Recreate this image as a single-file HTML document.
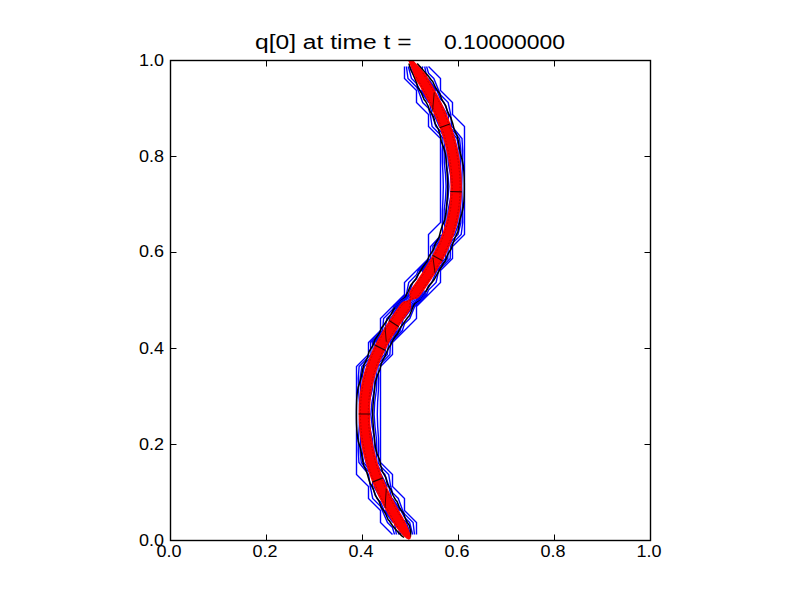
<!DOCTYPE html><html><head><meta charset="utf-8"><style>html,body{margin:0;padding:0;background:#fff;width:800px;height:600px;overflow:hidden}</style></head><body><svg width="800" height="600" viewBox="0 0 800 600" style="display:block">
<rect width="800" height="600" fill="#fff"/>
<defs><clipPath id="ax"><rect x="170.5" y="60.5" width="480" height="480"/></clipPath></defs>
<g clip-path="url(#ax)">
<path fill="none" stroke="#0000ff" stroke-width="1.4" stroke-linejoin="miter" d="M416.5 534.5 L416.5 522.5 L404.5 510.5 L404.5 510.5 L404.5 498.5 L392.5 486.5 L392.5 486.5 L392.5 474.5 L380.5 462.5 L380.5 462.5 L380.5 450.5 L380.5 438.5 L380.5 426.5 L380.5 414.5 L380.5 402.5 L380.5 390.5 L380.5 378.5 L380.5 366.5 L380.5 366.5 L392.5 354.5 L392.5 342.5 L392.5 342.5 L404.5 330.5 L404.5 330.5 L416.5 318.5 L416.5 306.5 L416.5 306.5 L428.5 294.5 L428.5 294.5 L440.5 282.5 L440.5 270.5 L440.5 270.5 L452.5 258.5 L452.5 246.5 L452.5 246.5 L464.5 234.5 L464.5 222.5 L464.5 210.5 L464.5 198.5 L464.5 186.5 L464.5 174.5 L464.5 162.5 L464.5 150.5 L464.5 138.5 L464.5 126.5 L452.5 114.5 L452.5 114.5 L452.5 102.5 L440.5 90.5 L440.5 90.5 L440.5 78.5 L428.5 66.5 L428.5 66.5 M404.5 66.5 L404.5 78.5 L416.5 90.5 L416.5 90.5 L416.5 102.5 L428.5 114.5 L428.5 114.5 L428.5 126.5 L440.5 138.5 L440.5 138.5 L440.5 150.5 L440.5 162.5 L440.5 174.5 L440.5 186.5 L440.5 198.5 L440.5 210.5 L440.5 222.5 L440.5 222.5 L428.5 234.5 L428.5 246.5 L428.5 258.5 L428.5 258.5 L416.5 270.5 L416.5 270.5 L404.5 282.5 L404.5 294.5 L404.5 294.5 L392.5 306.5 L392.5 306.5 L380.5 318.5 L380.5 330.5 L380.5 330.5 L368.5 342.5 L368.5 354.5 L368.5 354.5 L356.5 366.5 L356.5 378.5 L356.5 390.5 L356.5 402.5 L356.5 414.5 L356.5 426.5 L356.5 438.5 L356.5 450.5 L356.5 462.5 L356.5 474.5 L368.5 486.5 L368.5 486.5 L368.5 498.5 L380.5 510.5 L380.5 510.5 L380.5 522.5 L392.5 534.5 L392.5 534.5 M414.5 534.5 L413.1 522.5 L404.5 513.9 L402.7 510.5 L398.3 498.5 L392.5 492.7 L390.7 486.5 L388.7 474.5 L380.5 466.3 L378.1 462.5 L378.7 450.5 L378.5 438.5 L377.7 426.5 L377.3 414.5 L377.6 402.5 L378.4 390.5 L378.7 378.5 L377.9 366.5 L380.5 363.9 L389.9 354.5 L390.5 342.5 L392.5 340.4 L402.4 330.5 L404.5 323.8 L409.8 318.5 L414.7 306.5 L416.5 304.6 L426.6 294.5 L428.5 290.1 L436.1 282.5 L438.7 270.5 L440.5 268.2 L450.2 258.5 L450.4 246.5 L452.5 243.2 L461.2 234.5 L462.7 222.5 L462.6 210.5 L462.0 198.5 L461.7 186.5 L462.0 174.5 L462.6 162.5 L462.7 150.5 L462.0 138.5 L452.5 127.0 L451.6 126.5 L450.7 114.5 L448.2 102.5 L440.5 94.8 L438.7 90.5 L433.8 78.5 L428.5 73.2 L426.6 66.5 M406.4 66.5 L408.0 78.5 L416.5 87.0 L418.3 90.5 L422.7 102.5 L428.5 108.3 L430.3 114.5 L432.1 126.5 L440.5 134.9 L443.0 138.5 L442.3 150.5 L442.4 162.5 L443.0 174.5 L443.3 186.5 L443.0 198.5 L442.4 210.5 L442.3 222.5 L442.6 234.5 L440.5 235.8 L430.6 246.5 L430.8 258.5 L428.5 260.3 L418.3 270.5 L416.5 274.7 L408.7 282.5 L406.4 294.5 L404.5 296.3 L394.3 306.5 L392.5 309.6 L383.6 318.5 L382.6 330.5 L380.5 332.5 L370.5 342.5 L371.1 354.5 L368.5 357.1 L359.1 366.5 L358.3 378.5 L358.6 390.5 L359.4 402.5 L359.7 414.5 L359.3 426.5 L358.5 438.5 L358.3 450.5 L358.9 462.5 L368.5 474.4 L368.6 474.5 L370.3 486.5 L372.7 498.5 L380.5 506.3 L382.3 510.5 L387.5 522.5 L392.5 527.5 L394.5 534.5 M412.6 534.5 L409.7 522.5 L404.5 517.3 L400.9 510.5 L392.5 498.6 L391.7 498.5 L388.9 486.5 L384.9 474.5 L380.5 470.1 L375.7 462.5 L376.9 450.5 L376.4 438.5 L375.0 426.5 L374.1 414.5 L374.7 402.5 L376.3 390.5 L376.9 378.5 L375.2 366.5 L380.5 361.3 L387.3 354.5 L388.6 342.5 L392.5 338.2 L400.2 330.5 L403.3 318.5 L404.5 318.0 L412.9 306.5 L416.5 302.6 L424.6 294.5 L428.5 285.7 L431.7 282.5 L436.9 270.5 L440.5 265.8 L447.8 258.5 L448.2 246.5 L452.5 240.0 L458.0 234.5 L460.9 222.5 L460.8 210.5 L459.5 198.5 L458.9 186.5 L459.5 174.5 L460.7 162.5 L460.9 150.5 L459.5 138.5 L452.5 130.0 L446.8 126.5 L448.9 114.5 L444.0 102.5 L440.5 99.0 L436.9 90.5 L428.5 79.0 L427.0 78.5 L424.7 66.5 M408.3 66.5 L411.5 78.5 L416.5 83.5 L420.1 90.5 L428.5 102.3 L429.5 102.5 L432.1 114.5 L435.8 126.5 L440.5 131.2 L445.5 138.5 L444.1 150.5 L444.3 162.5 L445.5 174.5 L446.1 186.5 L445.5 198.5 L444.2 210.5 L444.1 222.5 L446.3 234.5 L440.5 238.1 L432.8 246.5 L433.2 258.5 L428.5 262.1 L420.1 270.5 L416.5 278.8 L412.8 282.5 L408.4 294.5 L404.5 298.1 L396.1 306.5 L392.5 312.8 L386.8 318.5 L384.8 330.5 L380.5 334.4 L372.4 342.5 L373.7 354.5 L368.5 359.8 L361.8 366.5 L360.1 378.5 L360.7 390.5 L362.3 402.5 L362.9 414.5 L362.0 426.5 L360.6 438.5 L360.1 450.5 L361.3 462.5 L368.5 471.5 L374.1 474.5 L372.1 486.5 L377.0 498.5 L380.5 502.0 L384.1 510.5 L392.5 521.8 L394.4 522.5 L396.4 534.5 M410.6 534.5 L406.3 522.5 L404.5 520.7 L401.0 522.5 L398.4 534.5 M410.2 66.5 L415.0 78.5 L416.5 80.0 L419.6 78.5 L422.8 66.5 M392.5 519.4 L399.1 510.5 L392.5 501.2 L385.9 510.5 L392.5 519.4 M380.5 498.0 L387.1 486.5 L381.1 474.5 L380.5 473.9 L379.6 474.5 L373.9 486.5 L380.5 498.0 M368.5 468.5 L373.4 462.5 L375.1 450.5 L374.4 438.5 L372.2 426.5 L370.9 414.5 L371.9 402.5 L374.2 390.5 L375.1 378.5 L372.6 366.5 L368.5 362.4 L364.4 366.5 L361.9 378.5 L362.8 390.5 L365.1 402.5 L366.1 414.5 L364.8 426.5 L362.6 438.5 L361.9 450.5 L363.6 462.5 L368.5 468.5 M380.5 358.7 L384.7 354.5 L386.6 342.5 L380.5 336.4 L374.4 342.5 L376.3 354.5 L380.5 358.7 M392.5 336.1 L398.1 330.5 L397.3 318.5 L404.5 315.5 L411.1 306.5 L416.5 300.7 L422.7 294.5 L416.5 282.9 L410.3 294.5 L404.5 299.9 L397.9 306.5 L392.5 315.9 L389.9 318.5 L386.9 330.5 L392.5 336.1 M428.5 281.7 L435.1 270.5 L428.5 263.9 L421.9 270.5 L428.5 281.7 M440.5 263.5 L445.5 258.5 L446.1 246.5 L440.5 240.4 L434.9 246.5 L435.5 258.5 L440.5 263.5 M452.5 236.7 L454.7 234.5 L459.1 222.5 L458.9 210.5 L457.0 198.5 L456.1 186.5 L457.0 174.5 L458.8 162.5 L459.1 150.5 L457.0 138.5 L452.5 133.0 L448.0 138.5 L445.9 150.5 L446.2 162.5 L448.0 174.5 L448.9 186.5 L448.0 198.5 L446.1 210.5 L445.9 222.5 L450.0 234.5 L452.5 236.7 M440.5 127.6 L441.9 126.5 L447.1 114.5 L440.5 103.1 L433.9 114.5 L439.4 126.5 L440.5 127.6 M428.5 99.8 L435.1 90.5 L428.5 81.5 L421.9 90.5 L428.5 99.8 M408.7 534.5 L404.5 524.7 L400.3 534.5 M412.2 66.5 L416.5 76.1 L420.8 66.5 M392.5 517.0 L397.3 510.5 L392.5 503.7 L387.7 510.5 L392.5 517.0 M380.5 494.8 L385.3 486.5 L380.5 477.4 L375.7 486.5 L380.5 494.8 M368.5 465.6 L371.0 462.5 L373.3 450.5 L372.3 438.5 L369.4 426.5 L368.5 419.9 L367.6 426.5 L364.7 438.5 L363.7 450.5 L366.0 462.5 L368.5 465.6 M368.5 407.1 L369.0 402.5 L372.1 390.5 L373.3 378.5 L370.0 366.5 L368.5 365.0 L367.0 366.5 L363.7 378.5 L364.9 390.5 L368.0 402.5 L368.5 407.1 M380.5 356.1 L382.1 354.5 L384.7 342.5 L380.5 338.3 L376.3 342.5 L378.9 354.5 L380.5 356.1 M392.5 334.0 L396.0 330.5 L392.5 319.7 L389.0 330.5 L392.5 334.0 M404.5 313.1 L409.3 306.5 L404.5 301.7 L399.7 306.5 L404.5 313.1 M416.5 298.7 L420.7 294.5 L416.5 286.6 L412.3 294.5 L416.5 298.7 M428.5 278.6 L433.3 270.5 L428.5 265.7 L423.7 270.5 L428.5 278.6 M440.5 261.1 L443.1 258.5 L443.9 246.5 L440.5 242.8 L437.1 246.5 L437.9 258.5 L440.5 261.1 M452.5 233.2 L457.3 222.5 L457.0 210.5 L454.5 198.5 L453.3 186.5 L454.5 174.5 L456.8 162.5 L457.3 150.5 L454.5 138.5 L452.5 136.0 L450.5 138.5 L447.7 150.5 L448.2 162.5 L450.5 174.5 L451.7 186.5 L450.5 198.5 L448.0 210.5 L447.7 222.5 L452.5 233.2 M440.5 124.0 L445.3 114.5 L440.5 106.2 L435.7 114.5 L440.5 124.0 M428.5 97.2 L433.3 90.5 L428.5 83.9 L423.7 90.5 L428.5 97.2 M406.7 534.5 L404.5 529.2 L402.3 534.5 M414.1 66.5 L416.5 71.8 L418.9 66.5 M392.5 514.5 L395.5 510.5 L392.5 506.3 L389.5 510.5 L392.5 514.5 M380.5 491.7 L383.5 486.5 L380.5 480.8 L377.5 486.5 L380.5 491.7 M368.5 462.6 L368.6 462.5 L371.5 450.5 L370.3 438.5 L368.5 431.7 L366.7 438.5 L365.5 450.5 L368.4 462.5 L368.5 462.6 M368.5 396.0 L370.0 390.5 L371.5 378.5 L368.5 369.0 L365.5 378.5 L367.0 390.5 L368.5 396.0 M380.5 351.6 L382.7 342.5 L380.5 340.3 L378.3 342.5 L380.5 351.6 M392.5 331.9 L393.9 330.5 L392.5 326.3 L391.1 330.5 L392.5 331.9 M404.5 310.6 L407.5 306.5 L404.5 303.5 L401.5 306.5 L404.5 310.6 M416.5 296.8 L418.8 294.5 L416.5 290.2 L414.2 294.5 L416.5 296.8 M428.5 275.6 L431.5 270.5 L428.5 267.5 L425.5 270.5 L428.5 275.6 M440.5 258.8 L440.8 258.5 L441.8 246.5 L440.5 245.1 L439.2 246.5 L440.2 258.5 L440.5 258.8 M452.5 229.2 L455.5 222.5 L455.2 210.5 L452.5 200.0 L449.8 210.5 L449.5 222.5 L452.5 229.2 M452.5 172.8 L454.9 162.5 L455.5 150.5 L452.5 139.7 L449.5 150.5 L450.1 162.5 L452.5 172.8 M440.5 120.4 L443.5 114.5 L440.5 109.3 L437.5 114.5 L440.5 120.4 M428.5 94.7 L431.5 90.5 L428.5 86.4 L425.5 90.5 L428.5 94.7 M404.8 534.5 L404.5 533.8 L404.2 534.5 M416.0 66.5 L416.5 67.6 L417.0 66.5 M392.5 512.1 L393.7 510.5 L392.5 508.8 L391.3 510.5 L392.5 512.1 M380.5 488.6 L381.7 486.5 L380.5 484.2 L379.3 486.5 L380.5 488.6 M368.5 455.4 L369.7 450.5 L368.5 440.3 L367.3 450.5 L368.5 455.4 M368.5 386.8 L369.7 378.5 L368.5 374.7 L367.3 378.5 L368.5 386.8 M380.5 343.6 L380.8 342.5 L380.5 342.2 L380.2 342.5 L380.5 343.6 M404.5 308.1 L405.7 306.5 L404.5 305.3 L403.3 306.5 L404.5 308.1 M416.5 294.9 L416.9 294.5 L416.5 293.8 L416.1 294.5 L416.5 294.9 M428.5 272.5 L429.7 270.5 L428.5 269.3 L427.3 270.5 L428.5 272.5 M452.5 225.2 L453.7 222.5 L453.3 210.5 L452.5 207.4 L451.7 210.5 L451.3 222.5 L452.5 225.2 M452.5 164.7 L453.0 162.5 L453.7 150.5 L452.5 146.2 L451.3 150.5 L452.0 162.5 L452.5 164.7 M440.5 116.9 L441.7 114.5 L440.5 112.4 L439.3 114.5 L440.5 116.9 M428.5 92.2 L429.7 90.5 L428.5 88.9 L427.3 90.5 L428.5 92.2"/>
<path fill="none" stroke="#000" stroke-width="1.5" d="M410.3 537.5 L410.8 531.5 L409.4 525.5 L407.5 522.6 L405.7 519.5 L403.7 513.5 L401.5 510.7 L399.4 507.5 L397.0 501.5 L395.5 499.7 L393.1 495.5 L390.9 489.5 L389.5 487.7 L387.3 483.5 L385.7 477.5 L382.4 471.5 L380.8 465.5 L379.5 459.5 L377.0 453.5 L375.5 447.5 L374.7 441.5 L373.1 423.5 L372.8 417.5 L372.7 411.5 L373.0 405.5 L374.1 393.5 L374.7 387.5 L375.5 381.5 L377.5 375.2 L379.9 369.5 L381.3 363.5 L383.5 358.8 L384.5 357.5 L386.9 351.5 L389.5 346.5 L390.4 345.5 L393.2 339.5 L395.5 336.0 L397.6 333.5 L400.4 327.5 L401.5 326.2 L407.5 317.7 L409.5 315.5 L413.5 305.7 L414.7 303.5 L419.5 299.6 L421.6 297.5 L425.8 291.5 L429.5 285.5 L434.2 279.5 L437.5 273.5 L443.5 263.3 L445.0 261.5 L447.3 255.5 L449.5 251.4 L451.0 249.5 L452.9 243.5 L455.1 237.5 L455.5 236.7 L457.9 231.5 L460.0 219.5 L461.8 213.5 L463.2 207.5 L463.9 201.5 L464.2 195.5 L464.3 189.5 L464.3 183.5 L464.2 177.5 L463.9 171.5 L463.3 165.5 L462.1 159.5 L461.5 157.7 L460.4 153.5 L459.3 147.5 L458.4 141.5 L457.1 135.5 L455.5 132.5 L454.2 129.5 L452.7 123.5 L450.8 117.5 L449.5 115.7 L447.4 111.5 L445.7 105.5 L443.5 102.3 L441.8 99.5 L439.7 93.5 L437.5 90.6 L435.5 87.5 L432.7 81.5 L431.5 80.3 L427.9 75.5 L425.5 72.9 L422.6 69.5 L417.2 63.5 M408.9 63.5 L410.6 69.5 L413.6 75.5 L416.1 81.5 L417.8 87.5 L419.5 89.8 L421.6 93.5 L424.1 99.5 L425.5 101.2 L427.9 105.5 L430.1 111.5 L431.5 113.3 L433.7 117.5 L435.2 123.5 L438.5 129.5 L440.2 135.5 L441.3 141.5 L443.6 147.5 L445.3 153.5 L446.1 159.5 L447.4 177.5 L447.7 183.5 L447.7 189.5 L447.4 195.5 L446.5 207.5 L445.9 213.5 L444.8 219.5 L443.5 222.9 L442.3 225.5 L440.5 231.5 L439.0 237.5 L435.4 243.5 L433.5 249.5 L431.5 252.6 L429.4 255.5 L427.0 261.5 L425.5 263.4 L422.6 267.5 L419.5 272.7 L418.7 273.5 L415.4 279.5 L410.6 285.5 L408.1 291.5 L407.5 292.6 L405.0 297.5 L401.5 300.4 L398.3 303.5 L395.5 307.2 L393.5 309.5 L390.4 315.5 L389.5 316.5 L383.5 325.5 L381.8 327.5 L379.2 333.5 L375.0 339.5 L372.9 345.5 L371.5 347.6 L369.1 351.5 L367.5 357.5 L365.5 361.9 L364.4 363.5 L362.6 369.5 L361.6 375.5 L359.5 383.3 L358.1 387.5 L357.2 393.5 L356.7 399.5 L356.5 405.5 L356.4 411.5 L356.4 417.5 L356.5 423.5 L356.8 429.5 L357.3 435.5 L358.3 441.5 L360.2 447.5 L361.5 453.5 L362.4 459.5 L363.7 465.5 L366.6 471.5 L368.3 477.5 L370.1 483.5 L371.5 485.5 L373.5 489.5 L375.3 495.5 L377.5 498.7 L379.2 501.5 L381.3 507.5 L383.5 510.4 L385.5 513.5 L388.1 519.5 L389.5 521.0 L392.4 525.5 L395.5 529.2 L397.5 531.5 L401.5 535.6 L404.0 537.5 L404.0 537.5"/>
<path fill="none" stroke="#0000ff" stroke-width="1.1" d="M393.87 305.33 L423.01 287.82 M394.55 306.47 L423.70 288.96 M395.24 307.61 L424.39 290.10 M395.93 308.76 L425.07 291.24 M396.61 309.90 L425.76 292.39 M397.30 311.04 L426.45 293.53 M397.99 312.18 L427.13 294.67"/>
<path fill="#ff0000" stroke="none" d="M396.0 41.2 L396.3 41.7 L396.6 42.2 L396.9 42.7 L397.2 43.3 L397.5 43.8 L397.9 44.3 L398.2 44.8 L398.5 45.4 L398.8 45.9 L399.1 46.4 L399.4 46.9 L399.8 47.4 L400.1 48.0 L400.4 48.5 L400.7 49.0 L401.0 49.5 L401.4 50.1 L401.7 50.6 L402.0 51.1 L402.3 51.6 L402.6 52.1 L403.0 52.7 L403.3 53.2 L403.6 53.7 L403.9 54.2 L404.3 54.7 L404.6 55.3 L404.9 55.8 L405.2 56.3 L405.6 56.8 L405.9 57.4 L406.2 57.9 L406.5 58.4 L406.9 58.9 L407.2 59.4 L407.5 60.0 L407.8 60.5 L408.2 61.0 L408.5 61.5 L408.8 62.0 L409.1 62.6 L409.3 63.2 L409.5 63.8 L409.8 64.3 L410.0 64.9 L410.2 65.5 L410.5 66.1 L410.7 66.7 L410.9 67.2 L411.1 67.8 L411.4 68.4 L411.6 69.0 L411.8 69.5 L412.0 70.1 L412.3 70.7 L412.5 71.3 L412.7 71.9 L412.9 72.4 L413.2 73.0 L413.4 73.6 L413.6 74.2 L413.8 74.7 L414.1 75.3 L414.3 75.9 L414.5 76.5 L414.7 77.0 L414.9 77.6 L415.2 78.2 L415.4 78.8 L415.6 79.3 L415.8 79.9 L416.1 80.4 L416.4 81.0 L416.7 81.5 L417.0 82.0 L417.3 82.5 L417.7 83.0 L418.0 83.5 L418.3 84.0 L418.6 84.6 L418.9 85.1 L419.2 85.6 L419.5 86.1 L419.8 86.6 L420.1 87.1 L420.4 87.6 L420.7 88.2 L421.0 88.7 L421.3 89.2 L421.6 89.7 L421.8 90.2 L422.1 90.7 L422.4 91.2 L422.7 91.8 L423.0 92.3 L423.3 92.8 L423.6 93.3 L423.9 93.8 L424.2 94.3 L424.4 94.8 L424.7 95.3 L425.0 95.8 L425.3 96.4 L425.5 96.9 L425.8 97.4 L426.1 97.9 L426.4 98.4 L426.6 98.9 L426.9 99.4 L427.2 99.9 L427.5 100.4 L427.7 101.0 L428.0 101.5 L428.2 102.0 L428.5 102.5 L428.8 103.0 L429.0 103.5 L429.3 104.0 L429.5 104.5 L429.8 105.0 L430.1 105.5 L430.3 106.1 L430.6 106.6 L430.8 107.1 L431.1 107.6 L431.3 108.1 L431.6 108.6 L431.8 109.1 L432.0 109.6 L432.3 110.1 L432.5 110.6 L432.8 111.1 L433.0 111.6 L433.2 112.2 L433.5 112.7 L433.7 113.2 L433.9 113.7 L434.1 114.2 L434.4 114.7 L434.6 115.2 L434.8 115.7 L435.0 116.2 L435.3 116.7 L435.5 117.2 L435.7 117.7 L435.9 118.2 L436.1 118.7 L436.3 119.3 L436.6 119.8 L436.8 120.3 L437.0 120.8 L437.2 121.3 L437.4 121.8 L437.6 122.3 L437.8 122.8 L438.0 123.3 L438.2 123.8 L438.4 124.3 L438.6 124.8 L438.8 125.3 L439.0 125.8 L439.1 126.3 L439.3 126.8 L439.5 127.3 L439.7 127.9 L439.9 128.4 L440.1 128.9 L440.2 129.4 L440.4 129.9 L440.6 130.4 L440.8 130.9 L441.0 131.4 L441.1 131.9 L441.3 132.4 L441.5 132.9 L441.6 133.4 L441.8 133.9 L442.0 134.4 L442.1 134.9 L442.3 135.4 L442.4 135.9 L442.6 136.4 L442.8 136.9 L442.9 137.4 L443.1 138.0 L443.2 138.5 L443.4 139.0 L443.5 139.5 L443.7 140.0 L443.8 140.5 L443.9 141.0 L444.1 141.5 L444.2 142.0 L444.4 142.5 L444.5 143.0 L444.6 143.5 L444.8 144.0 L444.9 144.5 L445.0 145.0 L445.2 145.5 L445.3 146.0 L445.4 146.5 L445.5 147.0 L445.7 147.5 L445.8 148.0 L445.9 148.5 L446.0 149.0 L446.1 149.5 L446.2 150.1 L446.4 150.6 L446.5 151.1 L446.6 151.6 L446.7 152.1 L446.8 152.6 L446.9 153.1 L447.0 153.6 L447.1 154.1 L447.2 154.6 L447.3 155.1 L447.4 155.6 L447.5 156.1 L447.6 156.6 L447.7 157.1 L447.8 157.6 L447.9 158.1 L447.9 158.6 L448.0 159.1 L448.1 159.6 L448.2 160.1 L448.3 160.6 L448.4 161.1 L448.4 161.6 L448.5 162.1 L448.6 162.6 L448.7 163.2 L448.7 163.7 L448.8 164.2 L448.9 164.7 L448.9 165.2 L449.0 165.7 L449.1 166.2 L449.1 166.7 L449.2 167.2 L449.3 167.7 L449.3 168.2 L449.4 168.7 L449.4 169.2 L449.5 169.7 L449.5 170.2 L449.6 170.7 L449.6 171.2 L449.7 171.7 L449.7 172.2 L449.8 172.7 L449.8 173.2 L449.9 173.7 L449.9 174.2 L449.9 174.7 L450.0 175.2 L450.0 175.7 L450.1 176.2 L450.1 176.7 L450.1 177.2 L450.1 177.7 L450.2 178.2 L450.2 178.7 L450.2 179.2 L450.2 179.8 L450.3 180.3 L450.3 180.8 L450.3 181.3 L450.3 181.8 L450.3 182.3 L450.3 182.8 L450.4 183.3 L450.4 183.8 L450.4 184.3 L450.4 184.8 L450.4 185.3 L450.4 185.8 L450.4 186.3 L450.4 186.8 L450.4 187.3 L450.4 187.8 L450.4 188.3 L450.4 188.8 L450.4 189.3 L450.4 189.8 L450.4 190.3 L450.3 190.8 L450.3 191.3 L450.3 191.8 L450.3 192.3 L450.3 192.8 L450.2 193.3 L450.2 193.8 L450.2 194.3 L450.2 194.8 L450.1 195.3 L450.1 195.8 L450.1 196.3 L450.0 196.8 L450.0 197.3 L450.0 197.8 L449.9 198.3 L449.9 198.8 L449.9 199.3 L449.8 199.8 L449.8 200.3 L449.7 200.8 L449.7 201.3 L449.6 201.8 L449.6 202.3 L449.5 202.8 L449.4 203.3 L449.4 203.8 L449.3 204.3 L449.3 204.8 L449.2 205.3 L449.1 205.8 L449.1 206.3 L449.0 206.8 L448.9 207.3 L448.8 207.8 L448.8 208.3 L448.7 208.8 L448.6 209.3 L448.5 209.8 L448.4 210.3 L448.4 210.8 L448.3 211.3 L448.2 211.8 L448.1 212.3 L448.0 212.8 L447.9 213.3 L447.8 213.8 L447.7 214.3 L447.6 214.8 L447.5 215.3 L447.4 215.8 L447.3 216.3 L447.2 216.8 L447.1 217.3 L447.0 217.8 L446.8 218.3 L446.7 218.8 L446.6 219.3 L446.5 219.8 L446.4 220.3 L446.2 220.8 L446.1 221.3 L446.0 221.8 L445.8 222.3 L445.7 222.8 L445.6 223.3 L445.4 223.8 L445.3 224.3 L445.1 224.8 L445.0 225.3 L444.9 225.8 L444.7 226.3 L444.6 226.8 L444.4 227.3 L444.2 227.7 L444.1 228.2 L443.9 228.7 L443.8 229.2 L443.6 229.7 L443.4 230.2 L443.3 230.7 L443.1 231.2 L442.9 231.7 L442.8 232.2 L442.6 232.7 L442.4 233.2 L442.2 233.7 L442.0 234.2 L441.8 234.7 L441.7 235.2 L441.5 235.7 L441.3 236.2 L441.1 236.7 L440.9 237.2 L440.7 237.7 L440.5 238.3 L440.3 238.8 L440.1 239.3 L439.9 239.8 L439.7 240.3 L439.4 240.8 L439.2 241.3 L439.0 241.8 L438.8 242.3 L438.6 242.8 L438.4 243.3 L438.1 243.8 L437.9 244.3 L437.7 244.8 L437.4 245.3 L437.2 245.8 L437.0 246.3 L436.7 246.8 L436.5 247.3 L436.3 247.8 L436.0 248.3 L435.8 248.8 L435.5 249.3 L435.3 249.8 L435.0 250.3 L434.8 250.8 L434.5 251.3 L434.2 251.8 L434.0 252.3 L433.7 252.8 L433.5 253.3 L433.2 253.8 L432.9 254.4 L432.7 254.9 L432.4 255.4 L432.1 255.9 L431.8 256.4 L431.6 256.9 L431.3 257.4 L431.0 257.9 L430.7 258.4 L430.4 258.9 L430.1 259.4 L429.8 259.9 L429.6 260.4 L429.3 260.9 L429.0 261.4 L428.7 262.0 L428.4 262.5 L428.1 263.0 L427.8 263.5 L427.5 264.0 L427.2 264.5 L426.8 265.0 L426.5 265.5 L426.2 266.0 L425.9 266.5 L425.6 267.0 L425.3 267.6 L425.0 268.1 L424.6 268.6 L424.3 269.1 L424.0 269.6 L423.7 270.1 L423.4 270.6 L423.0 271.1 L422.7 271.6 L422.4 272.2 L422.0 272.7 L421.7 273.2 L421.4 273.7 L421.0 274.2 L420.7 274.7 L420.4 275.2 L420.0 275.7 L419.7 276.3 L419.3 276.8 L419.0 277.3 L418.7 277.8 L418.3 278.3 L418.0 278.8 L417.6 279.3 L417.3 279.9 L416.9 280.4 L416.6 280.9 L416.2 281.4 L415.9 281.9 L415.5 282.4 L415.2 283.0 L414.8 283.5 L414.5 284.0 L414.1 284.5 L413.7 285.0 L413.4 285.5 L413.0 286.0 L412.7 286.6 L412.3 287.1 L412.0 287.6 L411.6 288.1 L411.2 288.6 L410.9 289.2 L410.6 289.7 L410.3 290.3 L410.0 290.8 L409.7 291.5 L409.5 292.1 L409.4 292.8 L409.4 293.5 L409.4 294.3 L409.5 295.2 L409.6 296.0 L409.6 296.8 L409.7 297.6 L409.6 298.4 L409.4 299.0 L409.0 299.5 L408.5 299.9 L407.8 300.2 L407.1 300.5 L406.2 300.7 L405.4 300.9 L404.6 301.1 L403.9 301.3 L403.2 301.6 L402.6 302.0 L402.0 302.4 L401.5 302.8 L401.1 303.3 L400.7 303.8 L400.3 304.3 L399.9 304.8 L399.5 305.3 L399.1 305.8 L398.8 306.3 L398.4 306.9 L398.0 307.4 L397.7 307.9 L397.3 308.4 L396.9 309.0 L396.6 309.5 L396.2 310.0 L395.9 310.5 L395.5 311.1 L395.1 311.6 L394.8 312.1 L394.4 312.6 L394.1 313.2 L393.7 313.7 L393.3 314.2 L393.0 314.7 L392.6 315.3 L392.3 315.8 L391.9 316.3 L391.6 316.9 L391.2 317.4 L390.9 317.9 L390.5 318.4 L390.2 319.0 L389.8 319.5 L389.5 320.0 L389.1 320.6 L388.8 321.1 L388.5 321.6 L388.1 322.1 L387.8 322.7 L387.4 323.2 L387.1 323.7 L386.8 324.3 L386.4 324.8 L386.1 325.3 L385.8 325.8 L385.4 326.4 L385.1 326.9 L384.8 327.4 L384.5 328.0 L384.1 328.5 L383.8 329.0 L383.5 329.6 L383.2 330.1 L382.9 330.6 L382.5 331.2 L382.2 331.7 L381.9 332.2 L381.6 332.8 L381.3 333.3 L381.0 333.8 L380.7 334.4 L380.4 334.9 L380.1 335.4 L379.8 336.0 L379.5 336.5 L379.2 337.0 L378.9 337.6 L378.6 338.1 L378.3 338.6 L378.0 339.2 L377.7 339.7 L377.4 340.2 L377.1 340.8 L376.9 341.3 L376.6 341.8 L376.3 342.4 L376.0 342.9 L375.7 343.5 L375.5 344.0 L375.2 344.5 L374.9 345.1 L374.7 345.6 L374.4 346.1 L374.1 346.7 L373.9 347.2 L373.6 347.8 L373.4 348.3 L373.1 348.8 L372.9 349.4 L372.6 349.9 L372.4 350.4 L372.1 351.0 L371.9 351.5 L371.6 352.1 L371.4 352.6 L371.2 353.1 L370.9 353.7 L370.7 354.2 L370.5 354.8 L370.2 355.3 L370.0 355.8 L369.8 356.4 L369.6 356.9 L369.4 357.4 L369.1 358.0 L368.9 358.5 L368.7 359.1 L368.5 359.6 L368.3 360.2 L368.1 360.7 L367.9 361.2 L367.7 361.8 L367.5 362.3 L367.3 362.9 L367.1 363.4 L366.9 363.9 L366.7 364.5 L366.5 365.0 L366.3 365.6 L366.2 366.1 L366.0 366.6 L365.8 367.2 L365.6 367.7 L365.5 368.3 L365.3 368.8 L365.1 369.4 L364.9 369.9 L364.8 370.4 L364.6 371.0 L364.5 371.5 L364.3 372.1 L364.1 372.6 L364.0 373.1 L363.8 373.7 L363.7 374.2 L363.5 374.8 L363.4 375.3 L363.3 375.9 L363.1 376.4 L363.0 376.9 L362.9 377.5 L362.7 378.0 L362.6 378.6 L362.5 379.1 L362.3 379.7 L362.2 380.2 L362.1 380.7 L362.0 381.3 L361.9 381.8 L361.7 382.4 L361.6 382.9 L361.5 383.4 L361.4 384.0 L361.3 384.5 L361.2 385.1 L361.1 385.6 L361.0 386.2 L360.9 386.7 L360.8 387.2 L360.7 387.8 L360.6 388.3 L360.5 388.9 L360.4 389.4 L360.4 390.0 L360.3 390.5 L360.2 391.0 L360.1 391.6 L360.0 392.1 L360.0 392.7 L359.9 393.2 L359.8 393.7 L359.8 394.3 L359.7 394.8 L359.6 395.4 L359.6 395.9 L359.5 396.5 L359.5 397.0 L359.4 397.5 L359.3 398.1 L359.3 398.6 L359.2 399.2 L359.2 399.7 L359.1 400.2 L359.1 400.8 L359.1 401.3 L359.0 401.9 L359.0 402.4 L358.9 402.9 L358.9 403.5 L358.9 404.0 L358.8 404.6 L358.8 405.1 L358.8 405.6 L358.8 406.2 L358.7 406.7 L358.7 407.3 L358.7 407.8 L358.7 408.3 L358.7 408.9 L358.7 409.4 L358.6 410.0 L358.6 410.5 L358.6 411.0 L358.6 411.6 L358.6 412.1 L358.6 412.7 L358.6 413.2 L358.6 413.7 L358.6 414.3 L358.6 414.8 L358.6 415.4 L358.6 415.9 L358.6 416.4 L358.6 417.0 L358.7 417.5 L358.7 418.1 L358.7 418.6 L358.7 419.1 L358.7 419.7 L358.7 420.2 L358.8 420.8 L358.8 421.3 L358.8 421.8 L358.8 422.4 L358.9 422.9 L358.9 423.4 L358.9 424.0 L359.0 424.5 L359.0 425.1 L359.0 425.6 L359.1 426.1 L359.1 426.7 L359.2 427.2 L359.2 427.8 L359.3 428.3 L359.3 428.8 L359.4 429.4 L359.4 429.9 L359.5 430.4 L359.5 431.0 L359.6 431.5 L359.6 432.1 L359.7 432.6 L359.8 433.1 L359.8 433.7 L359.9 434.2 L359.9 434.7 L360.0 435.3 L360.1 435.8 L360.2 436.4 L360.2 436.9 L360.3 437.4 L360.4 438.0 L360.5 438.5 L360.5 439.0 L360.6 439.6 L360.7 440.1 L360.8 440.7 L360.9 441.2 L361.0 441.7 L361.0 442.3 L361.1 442.8 L361.2 443.3 L361.3 443.9 L361.4 444.4 L361.5 445.0 L361.6 445.5 L361.7 446.0 L361.8 446.6 L361.9 447.1 L362.0 447.6 L362.1 448.2 L362.2 448.7 L362.3 449.3 L362.5 449.8 L362.6 450.3 L362.7 450.9 L362.8 451.4 L362.9 451.9 L363.0 452.5 L363.2 453.0 L363.3 453.5 L363.4 454.1 L363.5 454.6 L363.7 455.2 L363.8 455.7 L363.9 456.2 L364.1 456.8 L364.2 457.3 L364.3 457.8 L364.5 458.4 L364.6 458.9 L364.8 459.5 L364.9 460.0 L365.0 460.5 L365.2 461.1 L365.3 461.6 L365.5 462.1 L365.6 462.7 L365.8 463.2 L366.0 463.7 L366.1 464.3 L366.3 464.8 L366.4 465.4 L366.6 465.9 L366.8 466.4 L366.9 467.0 L367.1 467.5 L367.3 468.0 L367.4 468.6 L367.6 469.1 L367.8 469.6 L367.9 470.2 L368.1 470.7 L368.3 471.3 L368.5 471.8 L368.7 472.3 L368.9 472.9 L369.0 473.4 L369.2 473.9 L369.4 474.5 L369.6 475.0 L369.8 475.5 L370.0 476.1 L370.2 476.6 L370.4 477.2 L370.6 477.7 L370.8 478.2 L371.0 478.8 L371.2 479.3 L371.4 479.8 L371.6 480.4 L371.8 480.9 L372.0 481.4 L372.2 482.0 L372.5 482.5 L372.7 483.0 L372.9 483.6 L373.1 484.1 L373.3 484.6 L373.5 485.2 L373.8 485.7 L374.0 486.2 L374.2 486.8 L374.5 487.3 L374.7 487.9 L374.9 488.4 L375.1 488.9 L375.4 489.5 L375.6 490.0 L375.9 490.5 L376.1 491.1 L376.3 491.6 L376.6 492.1 L376.8 492.7 L377.1 493.2 L377.3 493.7 L377.6 494.3 L377.8 494.8 L378.1 495.3 L378.3 495.9 L378.6 496.4 L378.8 496.9 L379.1 497.4 L379.4 498.0 L379.6 498.5 L379.9 499.0 L380.1 499.6 L380.4 500.1 L380.7 500.6 L380.9 501.2 L381.2 501.7 L381.5 502.2 L381.8 502.8 L382.0 503.3 L382.3 503.8 L382.6 504.4 L382.9 504.9 L383.1 505.4 L383.4 506.0 L383.7 506.5 L384.0 507.0 L384.3 507.5 L384.6 508.1 L384.8 508.6 L385.1 509.1 L385.4 509.7 L385.7 510.2 L386.0 510.7 L386.3 511.3 L386.6 511.8 L386.9 512.3 L387.2 512.8 L387.5 513.4 L387.8 513.9 L388.1 514.4 L388.4 515.0 L388.7 515.5 L389.0 516.0 L389.3 516.5 L389.6 517.1 L389.9 517.6 L390.2 518.1 L390.5 518.6 L390.8 519.2 L391.1 519.7 L391.4 520.2 L391.7 520.7 L392.1 521.3 L392.4 521.8 L392.7 522.3 L393.0 522.8 L393.4 523.3 L393.7 523.8 L394.1 524.3 L394.4 524.9 L394.7 525.4 L395.1 525.9 L395.5 526.4 L395.8 526.9 L396.2 527.4 L396.5 527.9 L396.9 528.4 L397.3 528.9 L397.6 529.3 L398.0 529.8 L398.4 530.3 L398.8 530.8 L399.2 531.3 L399.6 531.8 L400.0 532.2 L400.4 532.7 L400.8 533.2 L401.2 533.6 L401.6 534.1 L402.1 534.6 L402.5 535.0 L402.9 535.5 L403.4 535.9 L403.8 536.4 L404.3 536.8 L404.8 537.2 L405.3 537.6 L405.8 538.0 L406.3 538.4 L406.9 538.8 L407.5 539.1 L408.1 539.5 L408.9 539.7 L410.5 538.7 L410.7 537.9 L410.7 537.1 L410.7 536.4 L410.6 535.8 L410.4 535.1 L410.3 534.5 L410.1 533.9 L410.0 533.2 L409.8 532.6 L409.6 532.0 L409.4 531.4 L409.2 530.8 L409.0 530.3 L408.8 529.7 L408.5 529.1 L408.3 528.5 L408.1 528.0 L407.8 527.4 L407.6 526.8 L407.3 526.3 L407.1 525.7 L406.8 525.1 L406.6 524.6 L406.3 524.0 L406.1 523.5 L405.8 522.9 L405.5 522.4 L405.3 521.8 L405.0 521.3 L404.7 520.8 L404.4 520.2 L404.2 519.7 L403.9 519.2 L403.6 518.6 L403.3 518.1 L403.0 517.6 L402.8 517.0 L402.5 516.5 L402.2 516.0 L401.9 515.5 L401.6 514.9 L401.3 514.4 L401.0 513.9 L400.7 513.4 L400.4 512.9 L400.1 512.4 L399.8 511.8 L399.5 511.3 L399.2 510.8 L398.9 510.3 L398.7 509.8 L398.4 509.3 L398.1 508.8 L397.8 508.2 L397.5 507.7 L397.2 507.2 L396.9 506.7 L396.6 506.2 L396.3 505.7 L396.1 505.2 L395.8 504.7 L395.5 504.2 L395.2 503.6 L395.0 503.1 L394.7 502.6 L394.4 502.1 L394.1 501.6 L393.9 501.1 L393.6 500.6 L393.3 500.1 L393.0 499.6 L392.8 499.0 L392.5 498.5 L392.3 498.0 L392.0 497.5 L391.7 497.0 L391.5 496.5 L391.2 496.0 L391.0 495.5 L390.7 495.0 L390.4 494.5 L390.2 493.9 L389.9 493.4 L389.7 492.9 L389.4 492.4 L389.2 491.9 L388.9 491.4 L388.7 490.9 L388.5 490.4 L388.2 489.9 L388.0 489.4 L387.7 488.9 L387.5 488.4 L387.3 487.8 L387.0 487.3 L386.8 486.8 L386.6 486.3 L386.4 485.8 L386.1 485.3 L385.9 484.8 L385.7 484.3 L385.5 483.8 L385.2 483.3 L385.0 482.8 L384.8 482.3 L384.6 481.8 L384.4 481.3 L384.2 480.7 L383.9 480.2 L383.7 479.7 L383.5 479.2 L383.3 478.7 L383.1 478.2 L382.9 477.7 L382.7 477.2 L382.5 476.7 L382.3 476.2 L382.1 475.7 L381.9 475.2 L381.7 474.7 L381.5 474.2 L381.4 473.7 L381.2 473.2 L381.0 472.7 L380.8 472.1 L380.6 471.6 L380.4 471.1 L380.3 470.6 L380.1 470.1 L379.9 469.6 L379.7 469.1 L379.5 468.6 L379.4 468.1 L379.2 467.6 L379.0 467.1 L378.9 466.6 L378.7 466.1 L378.5 465.6 L378.4 465.1 L378.2 464.6 L378.1 464.1 L377.9 463.6 L377.7 463.1 L377.6 462.6 L377.4 462.0 L377.3 461.5 L377.1 461.0 L377.0 460.5 L376.8 460.0 L376.7 459.5 L376.6 459.0 L376.4 458.5 L376.3 458.0 L376.1 457.5 L376.0 457.0 L375.9 456.5 L375.7 456.0 L375.6 455.5 L375.5 455.0 L375.3 454.5 L375.2 454.0 L375.1 453.5 L375.0 453.0 L374.8 452.5 L374.7 452.0 L374.6 451.5 L374.5 451.0 L374.4 450.5 L374.3 449.9 L374.1 449.4 L374.0 448.9 L373.9 448.4 L373.8 447.9 L373.7 447.4 L373.6 446.9 L373.5 446.4 L373.4 445.9 L373.3 445.4 L373.2 444.9 L373.1 444.4 L373.0 443.9 L372.9 443.4 L372.8 442.9 L372.7 442.4 L372.6 441.9 L372.6 441.4 L372.5 440.9 L372.4 440.4 L372.3 439.9 L372.2 439.4 L372.1 438.9 L372.1 438.4 L372.0 437.9 L371.9 437.4 L371.8 436.8 L371.8 436.3 L371.7 435.8 L371.6 435.3 L371.6 434.8 L371.5 434.3 L371.4 433.8 L371.4 433.3 L371.3 432.8 L371.2 432.3 L371.2 431.8 L371.1 431.3 L371.1 430.8 L371.0 430.3 L371.0 429.8 L370.9 429.3 L370.9 428.8 L370.8 428.3 L370.8 427.8 L370.7 427.3 L370.7 426.8 L370.6 426.3 L370.6 425.8 L370.6 425.3 L370.5 424.8 L370.5 424.3 L370.4 423.8 L370.4 423.3 L370.4 422.8 L370.4 422.3 L370.3 421.8 L370.3 421.3 L370.3 420.8 L370.3 420.2 L370.2 419.7 L370.2 419.2 L370.2 418.7 L370.2 418.2 L370.2 417.7 L370.2 417.2 L370.1 416.7 L370.1 416.2 L370.1 415.7 L370.1 415.2 L370.1 414.7 L370.1 414.2 L370.1 413.7 L370.1 413.2 L370.1 412.7 L370.1 412.2 L370.1 411.7 L370.1 411.2 L370.1 410.7 L370.1 410.2 L370.1 409.7 L370.2 409.2 L370.2 408.7 L370.2 408.2 L370.2 407.7 L370.2 407.2 L370.3 406.7 L370.3 406.2 L370.3 405.7 L370.3 405.2 L370.4 404.7 L370.4 404.2 L370.4 403.7 L370.5 403.2 L370.5 402.7 L370.5 402.2 L370.6 401.7 L370.6 401.2 L370.6 400.7 L370.7 400.2 L370.7 399.7 L370.8 399.2 L370.8 398.7 L370.9 398.2 L370.9 397.7 L371.0 397.2 L371.1 396.7 L371.1 396.2 L371.2 395.7 L371.2 395.2 L371.3 394.7 L371.4 394.2 L371.4 393.7 L371.5 393.2 L371.6 392.7 L371.7 392.2 L371.7 391.7 L371.8 391.2 L371.9 390.7 L372.0 390.2 L372.1 389.7 L372.1 389.2 L372.2 388.7 L372.3 388.2 L372.4 387.7 L372.5 387.2 L372.6 386.7 L372.7 386.2 L372.8 385.7 L372.9 385.2 L373.0 384.7 L373.1 384.2 L373.2 383.7 L373.3 383.2 L373.4 382.7 L373.5 382.2 L373.7 381.7 L373.8 381.2 L373.9 380.7 L374.0 380.2 L374.1 379.7 L374.3 379.2 L374.4 378.7 L374.5 378.2 L374.7 377.7 L374.8 377.2 L374.9 376.7 L375.1 376.2 L375.2 375.7 L375.4 375.2 L375.5 374.7 L375.6 374.2 L375.8 373.7 L375.9 373.2 L376.1 372.7 L376.3 372.3 L376.4 371.8 L376.6 371.3 L376.7 370.8 L376.9 370.3 L377.1 369.8 L377.2 369.3 L377.4 368.8 L377.6 368.3 L377.7 367.8 L377.9 367.3 L378.1 366.8 L378.3 366.3 L378.5 365.8 L378.7 365.3 L378.8 364.8 L379.0 364.3 L379.2 363.8 L379.4 363.3 L379.6 362.8 L379.8 362.3 L380.0 361.7 L380.2 361.2 L380.4 360.7 L380.6 360.2 L380.8 359.7 L381.1 359.2 L381.3 358.7 L381.5 358.2 L381.7 357.7 L381.9 357.2 L382.1 356.7 L382.4 356.2 L382.6 355.7 L382.8 355.2 L383.1 354.7 L383.3 354.2 L383.5 353.7 L383.8 353.2 L384.0 352.7 L384.2 352.2 L384.5 351.7 L384.7 351.2 L385.0 350.7 L385.2 350.2 L385.5 349.7 L385.7 349.2 L386.0 348.7 L386.3 348.2 L386.5 347.7 L386.8 347.2 L387.0 346.7 L387.3 346.2 L387.6 345.6 L387.8 345.1 L388.1 344.6 L388.4 344.1 L388.7 343.6 L388.9 343.1 L389.2 342.6 L389.5 342.1 L389.8 341.6 L390.1 341.1 L390.4 340.6 L390.7 340.1 L390.9 339.6 L391.2 339.1 L391.5 338.6 L391.8 338.0 L392.1 337.5 L392.4 337.0 L392.7 336.5 L393.0 336.0 L393.3 335.5 L393.7 335.0 L394.0 334.5 L394.3 334.0 L394.6 333.5 L394.9 333.0 L395.2 332.4 L395.5 331.9 L395.9 331.4 L396.2 330.9 L396.5 330.4 L396.8 329.9 L397.1 329.4 L397.5 328.9 L397.8 328.4 L398.1 327.8 L398.5 327.3 L398.8 326.8 L399.1 326.3 L399.5 325.8 L399.8 325.3 L400.1 324.8 L400.5 324.3 L400.8 323.7 L401.2 323.2 L401.5 322.7 L401.8 322.2 L402.2 321.7 L402.5 321.2 L402.9 320.7 L403.2 320.1 L403.6 319.6 L403.9 319.1 L404.3 318.6 L404.6 318.1 L405.0 317.6 L405.3 317.0 L405.7 316.5 L406.0 316.0 L406.4 315.5 L406.8 315.0 L407.1 314.5 L407.5 314.0 L407.8 313.4 L408.2 312.9 L408.5 312.4 L408.9 311.9 L409.3 311.4 L409.6 310.8 L409.9 310.3 L410.2 309.7 L410.5 309.2 L410.8 308.5 L411.0 307.9 L411.1 307.2 L411.1 306.5 L411.1 305.7 L411.0 304.8 L410.9 304.0 L410.9 303.2 L410.8 302.4 L410.9 301.6 L411.1 301.0 L411.5 300.5 L412.0 300.1 L412.7 299.8 L413.4 299.5 L414.3 299.3 L415.1 299.1 L415.9 298.9 L416.6 298.7 L417.3 298.4 L417.9 298.0 L418.5 297.6 L419.0 297.2 L419.4 296.7 L419.8 296.2 L420.2 295.7 L420.6 295.2 L421.0 294.7 L421.4 294.2 L421.7 293.7 L422.1 293.1 L422.5 292.6 L422.8 292.1 L423.2 291.6 L423.6 291.0 L423.9 290.5 L424.3 290.0 L424.6 289.5 L425.0 288.9 L425.4 288.4 L425.7 287.9 L426.1 287.4 L426.4 286.8 L426.8 286.3 L427.2 285.8 L427.5 285.3 L427.9 284.7 L428.2 284.2 L428.6 283.7 L428.9 283.1 L429.3 282.6 L429.6 282.1 L430.0 281.6 L430.3 281.0 L430.7 280.5 L431.0 280.0 L431.4 279.4 L431.7 278.9 L432.0 278.4 L432.4 277.9 L432.7 277.3 L433.1 276.8 L433.4 276.3 L433.7 275.7 L434.1 275.2 L434.4 274.7 L434.7 274.2 L435.1 273.6 L435.4 273.1 L435.7 272.6 L436.0 272.0 L436.4 271.5 L436.7 271.0 L437.0 270.4 L437.3 269.9 L437.6 269.4 L438.0 268.8 L438.3 268.3 L438.6 267.8 L438.9 267.2 L439.2 266.7 L439.5 266.2 L439.8 265.6 L440.1 265.1 L440.4 264.6 L440.7 264.0 L441.0 263.5 L441.3 263.0 L441.6 262.4 L441.9 261.9 L442.2 261.4 L442.5 260.8 L442.8 260.3 L443.1 259.8 L443.4 259.2 L443.6 258.7 L443.9 258.2 L444.2 257.6 L444.5 257.1 L444.8 256.5 L445.0 256.0 L445.3 255.5 L445.6 254.9 L445.8 254.4 L446.1 253.9 L446.4 253.3 L446.6 252.8 L446.9 252.2 L447.1 251.7 L447.4 251.2 L447.6 250.6 L447.9 250.1 L448.1 249.6 L448.4 249.0 L448.6 248.5 L448.9 247.9 L449.1 247.4 L449.3 246.9 L449.6 246.3 L449.8 245.8 L450.0 245.2 L450.3 244.7 L450.5 244.2 L450.7 243.6 L450.9 243.1 L451.1 242.6 L451.4 242.0 L451.6 241.5 L451.8 240.9 L452.0 240.4 L452.2 239.8 L452.4 239.3 L452.6 238.8 L452.8 238.2 L453.0 237.7 L453.2 237.1 L453.4 236.6 L453.6 236.1 L453.8 235.5 L454.0 235.0 L454.2 234.4 L454.3 233.9 L454.5 233.4 L454.7 232.8 L454.9 232.3 L455.0 231.7 L455.2 231.2 L455.4 230.6 L455.6 230.1 L455.7 229.6 L455.9 229.0 L456.0 228.5 L456.2 227.9 L456.4 227.4 L456.5 226.9 L456.7 226.3 L456.8 225.8 L457.0 225.2 L457.1 224.7 L457.2 224.1 L457.4 223.6 L457.5 223.1 L457.6 222.5 L457.8 222.0 L457.9 221.4 L458.0 220.9 L458.2 220.3 L458.3 219.8 L458.4 219.3 L458.5 218.7 L458.6 218.2 L458.8 217.6 L458.9 217.1 L459.0 216.6 L459.1 216.0 L459.2 215.5 L459.3 214.9 L459.4 214.4 L459.5 213.8 L459.6 213.3 L459.7 212.8 L459.8 212.2 L459.9 211.7 L460.0 211.1 L460.1 210.6 L460.1 210.0 L460.2 209.5 L460.3 209.0 L460.4 208.4 L460.5 207.9 L460.5 207.3 L460.6 206.8 L460.7 206.3 L460.7 205.7 L460.8 205.2 L460.9 204.6 L460.9 204.1 L461.0 203.5 L461.0 203.0 L461.1 202.5 L461.2 201.9 L461.2 201.4 L461.3 200.8 L461.3 200.3 L461.4 199.8 L461.4 199.2 L461.4 198.7 L461.5 198.1 L461.5 197.6 L461.6 197.1 L461.6 196.5 L461.6 196.0 L461.7 195.4 L461.7 194.9 L461.7 194.4 L461.7 193.8 L461.8 193.3 L461.8 192.7 L461.8 192.2 L461.8 191.7 L461.8 191.1 L461.8 190.6 L461.9 190.0 L461.9 189.5 L461.9 189.0 L461.9 188.4 L461.9 187.9 L461.9 187.3 L461.9 186.8 L461.9 186.3 L461.9 185.7 L461.9 185.2 L461.9 184.6 L461.9 184.1 L461.9 183.6 L461.9 183.0 L461.8 182.5 L461.8 181.9 L461.8 181.4 L461.8 180.9 L461.8 180.3 L461.8 179.8 L461.7 179.2 L461.7 178.7 L461.7 178.2 L461.7 177.6 L461.6 177.1 L461.6 176.6 L461.6 176.0 L461.5 175.5 L461.5 174.9 L461.5 174.4 L461.4 173.9 L461.4 173.3 L461.3 172.8 L461.3 172.2 L461.2 171.7 L461.2 171.2 L461.1 170.6 L461.1 170.1 L461.0 169.6 L461.0 169.0 L460.9 168.5 L460.9 167.9 L460.8 167.4 L460.7 166.9 L460.7 166.3 L460.6 165.8 L460.6 165.3 L460.5 164.7 L460.4 164.2 L460.3 163.6 L460.3 163.1 L460.2 162.6 L460.1 162.0 L460.0 161.5 L460.0 161.0 L459.9 160.4 L459.8 159.9 L459.7 159.3 L459.6 158.8 L459.5 158.3 L459.5 157.7 L459.4 157.2 L459.3 156.7 L459.2 156.1 L459.1 155.6 L459.0 155.0 L458.9 154.5 L458.8 154.0 L458.7 153.4 L458.6 152.9 L458.5 152.4 L458.4 151.8 L458.3 151.3 L458.2 150.7 L458.0 150.2 L457.9 149.7 L457.8 149.1 L457.7 148.6 L457.6 148.1 L457.5 147.5 L457.3 147.0 L457.2 146.5 L457.1 145.9 L457.0 145.4 L456.8 144.8 L456.7 144.3 L456.6 143.8 L456.4 143.2 L456.3 142.7 L456.2 142.2 L456.0 141.6 L455.9 141.1 L455.7 140.5 L455.6 140.0 L455.5 139.5 L455.3 138.9 L455.2 138.4 L455.0 137.9 L454.9 137.3 L454.7 136.8 L454.5 136.3 L454.4 135.7 L454.2 135.2 L454.1 134.6 L453.9 134.1 L453.7 133.6 L453.6 133.0 L453.4 132.5 L453.2 132.0 L453.1 131.4 L452.9 130.9 L452.7 130.4 L452.6 129.8 L452.4 129.3 L452.2 128.7 L452.0 128.2 L451.8 127.7 L451.6 127.1 L451.5 126.6 L451.3 126.1 L451.1 125.5 L450.9 125.0 L450.7 124.5 L450.5 123.9 L450.3 123.4 L450.1 122.8 L449.9 122.3 L449.7 121.8 L449.5 121.2 L449.3 120.7 L449.1 120.2 L448.9 119.6 L448.7 119.1 L448.5 118.6 L448.3 118.0 L448.0 117.5 L447.8 117.0 L447.6 116.4 L447.4 115.9 L447.2 115.4 L447.0 114.8 L446.7 114.3 L446.5 113.8 L446.3 113.2 L446.0 112.7 L445.8 112.1 L445.6 111.6 L445.4 111.1 L445.1 110.5 L444.9 110.0 L444.6 109.5 L444.4 108.9 L444.2 108.4 L443.9 107.9 L443.7 107.3 L443.4 106.8 L443.2 106.3 L442.9 105.7 L442.7 105.2 L442.4 104.7 L442.2 104.1 L441.9 103.6 L441.7 103.1 L441.4 102.6 L441.1 102.0 L440.9 101.5 L440.6 101.0 L440.4 100.4 L440.1 99.9 L439.8 99.4 L439.6 98.8 L439.3 98.3 L439.0 97.8 L438.7 97.2 L438.5 96.7 L438.2 96.2 L437.9 95.6 L437.6 95.1 L437.4 94.6 L437.1 94.0 L436.8 93.5 L436.5 93.0 L436.2 92.5 L435.9 91.9 L435.7 91.4 L435.4 90.9 L435.1 90.3 L434.8 89.8 L434.5 89.3 L434.2 88.7 L433.9 88.2 L433.6 87.7 L433.3 87.2 L433.0 86.6 L432.7 86.1 L432.4 85.6 L432.1 85.0 L431.8 84.5 L431.5 84.0 L431.2 83.5 L430.9 82.9 L430.6 82.4 L430.3 81.9 L430.0 81.4 L429.7 80.8 L429.4 80.3 L429.1 79.8 L428.8 79.2 L428.5 78.7 L428.2 78.2 L427.9 77.7 L427.5 77.1 L427.2 76.6 L426.9 76.1 L426.6 75.6 L426.3 75.0 L426.0 74.5 L425.6 74.0 L425.2 73.5 L424.8 73.1 L424.4 72.6 L424.0 72.1 L423.6 71.7 L423.2 71.2 L422.7 70.7 L422.3 70.3 L421.9 69.8 L421.5 69.3 L421.1 68.9 L420.7 68.4 L420.2 67.9 L419.8 67.5 L419.4 67.0 L419.0 66.6 L418.6 66.1 L418.1 65.6 L417.7 65.2 L417.3 64.7 L416.9 64.2 L416.5 63.8 L416.0 63.3 L415.6 62.9 L415.2 62.4 L414.8 61.9 L414.4 61.5 L413.9 61.0 L413.5 60.5 L413.1 60.1 L412.7 59.6 L412.4 59.1 L412.1 58.6 L411.7 58.0 L411.4 57.5 L411.1 57.0 L410.8 56.5 L410.4 56.0 L410.1 55.4 L409.8 54.9 L409.5 54.4 L409.1 53.9 L408.8 53.4 L408.5 52.8 L408.2 52.3 L407.8 51.8 L407.5 51.3 L407.2 50.8 L406.9 50.2 L406.6 49.7 L406.2 49.2 L405.9 48.7 L405.6 48.2 L405.3 47.6 L405.0 47.1 L404.6 46.6 L404.3 46.1 L404.0 45.6 L403.7 45.0 L403.4 44.5 L403.0 44.0 L402.7 43.5 L402.4 43.0 L402.1 42.5 L401.8 41.9 L401.5 41.4 L401.2 40.9 L400.9 40.4 L400.5 39.9 L400.2 39.3 L399.9 38.8Z"/>
<path fill="none" stroke="#b00000" stroke-width="0.9" stroke-dasharray="1.6 1.6" d="M416.2 77.1 L416.5 77.5 L416.8 78.0 L417.1 78.5 L417.4 79.0 L417.7 79.5 L418.0 80.0 L418.3 80.5 L418.6 81.0 L418.9 81.5 L419.2 82.0 L419.5 82.5 L419.7 83.0 L420.0 83.5 L420.3 84.0 L420.6 84.5 L420.9 85.0 L421.2 85.5 L421.5 86.0 L421.8 86.5 L422.1 87.0 L422.4 87.5 L422.6 88.0 L422.9 88.5 L423.2 89.0 L423.5 89.5 L423.8 90.0 L424.1 90.5 L424.3 91.0 L424.6 91.4 L424.9 91.9 L425.2 92.4 L425.4 92.9 L425.7 93.4 L426.0 93.9 L426.3 94.4 L426.5 94.9 L426.8 95.4 L427.1 95.9 L427.3 96.4 L427.6 96.9 L427.9 97.4 L428.1 97.9 L428.4 98.4 L428.7 98.9 L428.9 99.4 L429.2 99.9 L429.4 100.3 L429.7 100.8 L429.9 101.3 L430.2 101.8 L430.5 102.3 L430.7 102.8 L431.0 103.3 L431.2 103.8 L431.4 104.3 L431.7 104.8 L431.9 105.3 L432.2 105.8 L432.4 106.3 L432.7 106.8 L432.9 107.3 L433.1 107.7 L433.4 108.2 L433.6 108.7 L433.8 109.2 L434.1 109.7 L434.3 110.2 L434.5 110.7 L434.8 111.2 L435.0 111.7 L435.2 112.2 L435.4 112.7 L435.7 113.2 L435.9 113.7 L436.1 114.1 L436.3 114.6 L436.5 115.1 L436.7 115.6 L437.0 116.1 L437.2 116.6 L437.4 117.1 L437.6 117.6 L437.8 118.1 L438.0 118.6 L438.2 119.1 L438.4 119.6 L438.6 120.0 L438.8 120.5 L439.0 121.0 L439.2 121.5 L439.4 122.0 L439.6 122.5 L439.8 123.0 L440.0 123.5 L440.2 124.0 L440.4 124.5 L440.5 125.0 L440.7 125.4 L440.9 125.9 L441.1 126.4 L441.3 126.9 L441.5 127.4 L441.6 127.9 L441.8 128.4 L442.0 128.9 L442.2 129.4 L442.3 129.9 L442.5 130.3 L442.7 130.8 L442.8 131.3 L443.0 131.8 L443.2 132.3 L443.3 132.8 L443.5 133.3 L443.6 133.8 L443.8 134.3 L444.0 134.8 L444.1 135.2 L444.3 135.7 L444.4 136.2 L444.6 136.7 L444.7 137.2 L444.9 137.7 L445.0 138.2 L445.2 138.7 L445.3 139.2 L445.4 139.7 L445.6 140.1 L445.7 140.6 L445.9 141.1 L446.0 141.6 L446.1 142.1 L446.3 142.6 L446.4 143.1 L446.5 143.6 L446.6 144.1 L446.8 144.6 L446.9 145.0 L447.0 145.5 L447.1 146.0 L447.3 146.5 L447.4 147.0 L447.5 147.5 L447.6 148.0 L447.7 148.5 L447.8 149.0 L447.9 149.5 L448.1 149.9 L448.2 150.4 L448.3 150.9 L448.4 151.4 L448.5 151.9 L448.6 152.4 L448.7 152.9 L448.8 153.4 L448.9 153.9 L449.0 154.4 L449.1 154.8 L449.2 155.3 L449.3 155.8 L449.4 156.3 L449.4 156.8 L449.5 157.3 L449.6 157.8 L449.7 158.3 L449.8 158.8 L449.9 159.2 L450.0 159.7 L450.0 160.2 L450.1 160.7 L450.2 161.2 L450.3 161.7 L450.3 162.2 L450.4 162.7 L450.5 163.2 L450.6 163.6 L450.6 164.1 L450.7 164.6 L450.8 165.1 L450.8 165.6 L450.9 166.1 L450.9 166.6 L451.0 167.1 L451.1 167.6 L451.1 168.1 L451.2 168.5 L451.2 169.0 L451.3 169.5 L451.3 170.0 L451.4 170.5 L451.4 171.0 L451.5 171.5 L451.5 172.0 L451.6 172.5 L451.6 172.9 L451.6 173.4 L451.7 173.9 L451.7 174.4 L451.8 174.9 L451.8 175.4 L451.8 175.9 L451.9 176.4 L451.9 176.9 L451.9 177.3 L452.0 177.8 L452.0 178.3 L452.0 178.8 L452.0 179.3 L452.0 179.8 L452.1 180.3 L452.1 180.8 L452.1 181.3 L452.1 181.7 L452.1 182.2 L452.1 182.7 L452.2 183.2 L452.2 183.7 L452.2 184.2 L452.2 184.7 L452.2 185.2 L452.2 185.6 L452.2 186.1 L452.2 186.6 L452.2 187.1 L452.2 187.6 L452.2 188.1 L452.2 188.6 L452.2 189.1 L452.2 189.6 L452.2 190.0 L452.1 190.5 L452.1 191.0 L452.1 191.5 L452.1 192.0 L452.1 192.5 L452.1 193.0 L452.0 193.5 L452.0 193.9 L452.0 194.4 L452.0 194.9 L451.9 195.4 L451.9 195.9 L451.9 196.4 L451.8 196.9 L451.8 197.4 L451.8 197.8 L451.7 198.3 L451.7 198.8 L451.7 199.3 L451.6 199.8 L451.6 200.3 L451.5 200.8 L451.5 201.2 L451.4 201.7 L451.4 202.2 L451.3 202.7 L451.3 203.2 L451.2 203.7 L451.2 204.2 L451.1 204.7 L451.0 205.1 L451.0 205.6 L450.9 206.1 L450.8 206.6 L450.8 207.1 L450.7 207.6 L450.6 208.1 L450.6 208.5 L450.5 209.0 L450.4 209.5 L450.3 210.0 L450.2 210.5 L450.2 211.0 L450.1 211.5 L450.0 212.0 L449.9 212.4 L449.8 212.9 L449.7 213.4 L449.6 213.9 L449.5 214.4 L449.4 214.9 L449.3 215.4 L449.2 215.8 L449.1 216.3 L449.0 216.8 L448.9 217.3 L448.8 217.8 L448.7 218.3 L448.6 218.8 L448.5 219.2 L448.3 219.7 L448.2 220.2 L448.1 220.7 L448.0 221.2 L447.9 221.7 L447.7 222.2 L447.6 222.6 L447.5 223.1 L447.3 223.6 L447.2 224.1 L447.1 224.6 L446.9 225.1 L446.8 225.6 L446.6 226.1 L446.5 226.5 L446.4 227.0 L446.2 227.5 L446.1 228.0 L445.9 228.5 L445.7 229.0 L445.6 229.5 L445.4 229.9 L445.3 230.4 L445.1 230.9 L444.9 231.4 L444.8 231.9 L444.6 232.4 L444.4 232.9 L444.3 233.4 L444.1 233.8 L443.9 234.3 L443.7 234.8 L443.6 235.3 L443.4 235.8 L443.2 236.3 L443.0 236.8 L442.8 237.2 L442.6 237.7 L442.4 238.2 L442.2 238.7 L442.0 239.2 L441.8 239.7 L441.6 240.2 L441.4 240.7 L441.2 241.2 L441.0 241.6 L440.8 242.1 L440.6 242.6 L440.4 243.1 L440.2 243.6 L440.0 244.1 L439.7 244.6 L439.5 245.1 L439.3 245.5 L439.1 246.0 L438.8 246.5 L438.6 247.0 L438.4 247.5 L438.2 248.0 L437.9 248.5 L437.7 249.0 L437.4 249.5 L437.2 249.9 L437.0 250.4 L436.7 250.9 L436.5 251.4 L436.2 251.9 L436.0 252.4 L435.7 252.9 L435.5 253.4 L435.2 253.9 L435.0 254.4 L434.7 254.9 L434.4 255.3 L434.2 255.8 L433.9 256.3 L433.6 256.8 L433.4 257.3 L433.1 257.8 L432.8 258.3 L432.6 258.8 L432.3 259.3 L432.0 259.8 L431.7 260.3 L431.4 260.7 L431.2 261.2 L430.9 261.7 L430.6 262.2 L430.3 262.7 L430.0 263.2 L429.7 263.7 L429.4 264.2 L429.1 264.7 L428.8 265.2 L428.6 265.7 L428.3 266.2 L428.0 266.7 L427.7 267.2 L427.3 267.6 L427.0 268.1 L426.7 268.6 L426.4 269.1 L426.1 269.6 L425.8 270.1 L425.5 270.6 L425.2 271.1 L424.9 271.6 L424.6 272.1 L424.2 272.6 L423.9 273.1 L423.6 273.6 L423.3 274.1 L423.0 274.6 L422.6 275.1 L422.3 275.6 L422.0 276.1 L421.7 276.5 L421.3 277.0 L421.0 277.5 L420.7 278.0 L420.3 278.5 L420.0 279.0 L419.7 279.5 L419.3 280.0 L419.0 280.5 L418.7 281.0 L418.3 281.5 L418.0 282.0 L417.7 282.5 L417.3 283.0 L417.0 283.5 L416.6 284.0 L416.3 284.5 L415.9 285.0 L415.6 285.5 L415.3 286.0 L414.9 286.5 L414.6 287.0 L414.2 287.5 L413.9 288.0 L413.5 288.5 L413.2 289.0 L412.8 289.5 L412.5 290.0 L412.2 290.5 L411.9 291.0 L411.6 291.6 L411.3 292.1 L411.0 292.7 L410.8 293.3 L410.7 293.9 L410.6 294.6 L410.6 295.4 L410.6 296.1 L410.6 296.9 L410.6 297.6 L410.5 298.3 L410.4 299.0 L410.2 299.6 L409.8 300.1 L409.3 300.5 L408.8 300.8 L408.1 301.1 L407.4 301.4 L406.7 301.6 L406.0 301.9 L405.3 302.1 L404.7 302.5 L404.1 302.8 L403.6 303.2 L403.2 303.6 L402.7 304.1 L402.3 304.5 L401.9 305.0 L401.6 305.5 L401.2 306.0 L400.8 306.5 L400.5 307.0 L400.1 307.5 L399.8 308.0 L399.4 308.5 L399.1 309.0 L398.7 309.5 L398.4 310.0 L398.0 310.5 L397.7 311.0 L397.4 311.5 L397.0 312.0 L396.7 312.5 L396.3 313.0 L396.0 313.5 L395.6 314.0 L395.3 314.6 L394.9 315.1 L394.6 315.6 L394.3 316.1 L393.9 316.6 L393.6 317.1 L393.3 317.6 L392.9 318.1 L392.6 318.6 L392.2 319.1 L391.9 319.6 L391.6 320.1 L391.3 320.6 L390.9 321.1 L390.6 321.6 L390.3 322.1 L389.9 322.6 L389.6 323.1 L389.3 323.7 L389.0 324.2 L388.6 324.7 L388.3 325.2 L388.0 325.7 L387.7 326.2 L387.4 326.7 L387.1 327.2 L386.7 327.7 L386.4 328.2 L386.1 328.7 L385.8 329.2 L385.5 329.7 L385.2 330.2 L384.9 330.8 L384.6 331.3 L384.3 331.8 L384.0 332.3 L383.7 332.8 L383.4 333.3 L383.1 333.8 L382.8 334.3 L382.5 334.8 L382.2 335.3 L381.9 335.8 L381.6 336.3 L381.3 336.9 L381.0 337.4 L380.8 337.9 L380.5 338.4 L380.2 338.9 L379.9 339.4 L379.6 339.9 L379.4 340.4 L379.1 340.9 L378.8 341.4 L378.6 342.0 L378.3 342.5 L378.0 343.0 L377.8 343.5 L377.5 344.0 L377.2 344.5 L377.0 345.0 L376.7 345.5 L376.5 346.0 L376.2 346.6 L376.0 347.1 L375.7 347.6 L375.5 348.1 L375.2 348.6 L375.0 349.1 L374.7 349.6 L374.5 350.1 L374.3 350.7 L374.0 351.2 L373.8 351.7 L373.6 352.2 L373.3 352.7 L373.1 353.2 L372.9 353.7 L372.6 354.2 L372.4 354.8 L372.2 355.3 L372.0 355.8 L371.8 356.3 L371.6 356.8 L371.3 357.3 L371.1 357.8 L370.9 358.3 L370.7 358.9 L370.5 359.4 L370.3 359.9 L370.1 360.4 L369.9 360.9 L369.7 361.4 L369.5 361.9 L369.3 362.5 L369.2 363.0 L369.0 363.5 L368.8 364.0 L368.6 364.5 L368.4 365.0 L368.2 365.5 L368.1 366.1 L367.9 366.6 L367.7 367.1 L367.6 367.6 L367.4 368.1 L367.2 368.6 L367.1 369.1 L366.9 369.7 L366.7 370.2 L366.6 370.7 L366.4 371.2 L366.3 371.7 L366.1 372.2 L366.0 372.7 L365.8 373.3 L365.7 373.8 L365.5 374.3 L365.4 374.8 L365.3 375.3 L365.1 375.8 L365.0 376.3 L364.9 376.9 L364.7 377.4 L364.6 377.9 L364.5 378.4 L364.4 378.9 L364.2 379.4 L364.1 380.0 L364.0 380.5 L363.9 381.0 L363.8 381.5 L363.7 382.0 L363.5 382.5 L363.4 383.0 L363.3 383.6 L363.2 384.1 L363.1 384.6 L363.0 385.1 L362.9 385.6 L362.8 386.1 L362.7 386.6 L362.6 387.2 L362.6 387.7 L362.5 388.2 L362.4 388.7 L362.3 389.2 L362.2 389.7 L362.1 390.2 L362.1 390.8 L362.0 391.3 L361.9 391.8 L361.8 392.3 L361.8 392.8 L361.7 393.3 L361.6 393.9 L361.6 394.4 L361.5 394.9 L361.4 395.4 L361.4 395.9 L361.3 396.4 L361.3 396.9 L361.2 397.5 L361.2 398.0 L361.1 398.5 L361.1 399.0 L361.0 399.5 L361.0 400.0 L360.9 400.5 L360.9 401.1 L360.8 401.6 L360.8 402.1 L360.8 402.6 L360.7 403.1 L360.7 403.6 L360.7 404.1 L360.6 404.6 L360.6 405.2 L360.6 405.7 L360.6 406.2 L360.5 406.7 L360.5 407.2 L360.5 407.7 L360.5 408.2 L360.5 408.8 L360.5 409.3 L360.4 409.8 L360.4 410.3 L360.4 410.8 L360.4 411.3 L360.4 411.8 L360.4 412.3 L360.4 412.9 L360.4 413.4 L360.4 413.9 L360.4 414.4 L360.4 414.9 L360.4 415.4 L360.4 415.9 L360.4 416.5 L360.4 417.0 L360.5 417.5 L360.5 418.0 L360.5 418.5 L360.5 419.0 L360.5 419.5 L360.5 420.0 L360.6 420.6 L360.6 421.1 L360.6 421.6 L360.6 422.1 L360.7 422.6 L360.7 423.1 L360.7 423.6 L360.8 424.1 L360.8 424.7 L360.8 425.2 L360.9 425.7 L360.9 426.2 L360.9 426.7 L361.0 427.2 L361.0 427.7 L361.1 428.2 L361.1 428.8 L361.2 429.3 L361.2 429.8 L361.3 430.3 L361.3 430.8 L361.4 431.3 L361.4 431.8 L361.5 432.3 L361.5 432.8 L361.6 433.4 L361.7 433.9 L361.7 434.4 L361.8 434.9 L361.8 435.4 L361.9 435.9 L362.0 436.4 L362.1 436.9 L362.1 437.5 L362.2 438.0 L362.3 438.5 L362.3 439.0 L362.4 439.5 L362.5 440.0 L362.6 440.5 L362.7 441.0 L362.7 441.5 L362.8 442.1 L362.9 442.6 L363.0 443.1 L363.1 443.6 L363.2 444.1 L363.3 444.6 L363.4 445.1 L363.5 445.6 L363.6 446.2 L363.7 446.7 L363.8 447.2 L363.9 447.7 L364.0 448.2 L364.1 448.7 L364.2 449.2 L364.3 449.7 L364.4 450.2 L364.5 450.8 L364.6 451.3 L364.7 451.8 L364.8 452.3 L365.0 452.8 L365.1 453.3 L365.2 453.8 L365.3 454.3 L365.4 454.8 L365.6 455.4 L365.7 455.9 L365.8 456.4 L366.0 456.9 L366.1 457.4 L366.2 457.9 L366.3 458.4 L366.5 458.9 L366.6 459.5 L366.8 460.0 L366.9 460.5 L367.0 461.0 L367.2 461.5 L367.3 462.0 L367.5 462.5 L367.6 463.0 L367.8 463.5 L367.9 464.1 L368.1 464.6 L368.2 465.1 L368.4 465.6 L368.5 466.1 L368.7 466.6 L368.9 467.1 L369.0 467.6 L369.2 468.1 L369.3 468.7 L369.5 469.2 L369.7 469.7 L369.8 470.2 L370.0 470.7 L370.2 471.2 L370.4 471.7 L370.5 472.2 L370.7 472.7 L370.9 473.2 L371.1 473.8 L371.3 474.3 L371.4 474.8 L371.6 475.3 L371.8 475.8 L372.0 476.3 L372.2 476.8 L372.4 477.3 L372.6 477.8 L372.8 478.4 L373.0 478.9 L373.2 479.4 L373.3 479.9 L373.5 480.4 L373.8 480.9 L374.0 481.4 L374.2 481.9 L374.4 482.4 L374.6 482.9 L374.8 483.5 L375.0 484.0 L375.2 484.5 L375.4 485.0 L375.6 485.5 L375.9 486.0 L376.1 486.5 L376.3 487.0 L376.5 487.5 L376.7 488.0 L377.0 488.6 L377.2 489.1 L377.4 489.6 L377.6 490.1 L377.9 490.6 L378.1 491.1 L378.3 491.6 L378.6 492.1 L378.8 492.6 L379.0 493.1 L379.3 493.6 L379.5 494.2 L379.8 494.7 L380.0 495.2 L380.2 495.7 L380.5 496.2 L380.7 496.7 L381.0 497.2 L381.2 497.7 L381.5 498.2 L381.7 498.7 L382.0 499.2 L382.2 499.7 L382.5 500.3 L382.8 500.8 L383.0 501.3 L383.3 501.8 L383.5 502.3 L383.8 502.8 L384.1 503.3 L384.3 503.8 L384.6 504.3 L384.9 504.8 L385.1 505.3 L385.4 505.8 L385.7 506.3 L385.9 506.8 L386.2 507.4 L386.5 507.9 L386.8 508.4 L387.0 508.9 L387.3 509.4 L387.6 509.9 L387.9 510.4 L388.1 510.9 L388.4 511.4 L388.7 511.9 L389.0 512.4 L389.3 512.9 L389.6 513.4 L389.9 513.9 L390.1 514.4 L390.4 514.9 L390.7 515.5 L391.0 516.0 L391.3 516.5 L391.6 517.0 L391.9 517.5 L392.2 518.0 L392.5 518.5 L392.8 519.0 L393.1 519.5 L393.4 520.0 L393.7 520.5 L394.0 521.0 L394.3 521.5 L394.6 522.0 L394.9 522.5 L395.2 523.0 L395.5 523.5 L395.8 524.0 L396.1 524.5 L396.4 525.0 L396.7 525.5 L397.0 526.0 L397.3 526.5 L397.6 527.1"/>
<path fill="none" stroke="#b00000" stroke-width="0.9" stroke-dasharray="1.6 1.6" d="M422.9 72.9 L423.2 73.5 L423.5 74.0 L423.8 74.5 L424.1 75.0 L424.4 75.5 L424.7 76.0 L425.0 76.5 L425.3 77.0 L425.6 77.5 L425.9 78.0 L426.2 78.5 L426.5 79.0 L426.8 79.5 L427.1 80.0 L427.4 80.5 L427.7 81.0 L428.0 81.5 L428.3 82.0 L428.6 82.5 L428.9 83.0 L429.2 83.5 L429.5 84.0 L429.8 84.5 L430.1 85.1 L430.4 85.6 L430.6 86.1 L430.9 86.6 L431.2 87.1 L431.5 87.6 L431.8 88.1 L432.1 88.6 L432.4 89.1 L432.6 89.6 L432.9 90.1 L433.2 90.6 L433.5 91.1 L433.7 91.6 L434.0 92.1 L434.3 92.6 L434.6 93.2 L434.8 93.7 L435.1 94.2 L435.4 94.7 L435.6 95.2 L435.9 95.7 L436.2 96.2 L436.4 96.7 L436.7 97.2 L437.0 97.7 L437.2 98.2 L437.5 98.7 L437.7 99.2 L438.0 99.7 L438.3 100.3 L438.5 100.8 L438.8 101.3 L439.0 101.8 L439.3 102.3 L439.5 102.8 L439.8 103.3 L440.0 103.8 L440.3 104.3 L440.5 104.8 L440.7 105.3 L441.0 105.8 L441.2 106.4 L441.5 106.9 L441.7 107.4 L441.9 107.9 L442.2 108.4 L442.4 108.9 L442.6 109.4 L442.9 109.9 L443.1 110.4 L443.3 110.9 L443.5 111.4 L443.8 112.0 L444.0 112.5 L444.2 113.0 L444.4 113.5 L444.6 114.0 L444.9 114.5 L445.1 115.0 L445.3 115.5 L445.5 116.0 L445.7 116.5 L445.9 117.1 L446.1 117.6 L446.3 118.1 L446.5 118.6 L446.7 119.1 L447.0 119.6 L447.2 120.1 L447.3 120.6 L447.5 121.1 L447.7 121.6 L447.9 122.2 L448.1 122.7 L448.3 123.2 L448.5 123.7 L448.7 124.2 L448.9 124.7 L449.1 125.2 L449.2 125.7 L449.4 126.2 L449.6 126.8 L449.8 127.3 L450.0 127.8 L450.1 128.3 L450.3 128.8 L450.5 129.3 L450.7 129.8 L450.8 130.3 L451.0 130.8 L451.2 131.3 L451.3 131.9 L451.5 132.4 L451.6 132.9 L451.8 133.4 L452.0 133.9 L452.1 134.4 L452.3 134.9 L452.4 135.4 L452.6 135.9 L452.7 136.5 L452.9 137.0 L453.0 137.5 L453.2 138.0 L453.3 138.5 L453.5 139.0 L453.6 139.5 L453.7 140.0 L453.9 140.5 L454.0 141.1 L454.2 141.6 L454.3 142.1 L454.4 142.6 L454.5 143.1 L454.7 143.6 L454.8 144.1 L454.9 144.6 L455.1 145.2 L455.2 145.7 L455.3 146.2 L455.4 146.7 L455.5 147.2 L455.7 147.7 L455.8 148.2 L455.9 148.7 L456.0 149.2 L456.1 149.8 L456.2 150.3 L456.3 150.8 L456.4 151.3 L456.5 151.8 L456.6 152.3 L456.7 152.8 L456.8 153.3 L456.9 153.8 L457.0 154.4 L457.1 154.9 L457.2 155.4 L457.3 155.9 L457.4 156.4 L457.5 156.9 L457.6 157.4 L457.7 157.9 L457.8 158.5 L457.8 159.0 L457.9 159.5 L458.0 160.0 L458.1 160.5 L458.2 161.0 L458.2 161.5 L458.3 162.0 L458.4 162.5 L458.4 163.1 L458.5 163.6 L458.6 164.1 L458.7 164.6 L458.7 165.1 L458.8 165.6 L458.8 166.1 L458.9 166.6 L459.0 167.2 L459.0 167.7 L459.1 168.2 L459.1 168.7 L459.2 169.2 L459.2 169.7 L459.3 170.2 L459.3 170.7 L459.4 171.2 L459.4 171.8 L459.5 172.3 L459.5 172.8 L459.6 173.3 L459.6 173.8 L459.6 174.3 L459.7 174.8 L459.7 175.3 L459.7 175.9 L459.8 176.4 L459.8 176.9 L459.8 177.4 L459.9 177.9 L459.9 178.4 L459.9 178.9 L459.9 179.4 L460.0 180.0 L460.0 180.5 L460.0 181.0 L460.0 181.5 L460.0 182.0 L460.0 182.5 L460.1 183.0 L460.1 183.5 L460.1 184.1 L460.1 184.6 L460.1 185.1 L460.1 185.6 L460.1 186.1 L460.1 186.6 L460.1 187.1 L460.1 187.7 L460.1 188.2 L460.1 188.7 L460.1 189.2 L460.1 189.7 L460.1 190.2 L460.0 190.7 L460.0 191.2 L460.0 191.8 L460.0 192.3 L460.0 192.8 L460.0 193.3 L459.9 193.8 L459.9 194.3 L459.9 194.8 L459.9 195.4 L459.8 195.9 L459.8 196.4 L459.8 196.9 L459.7 197.4 L459.7 197.9 L459.7 198.4 L459.6 198.9 L459.6 199.5 L459.5 200.0 L459.5 200.5 L459.4 201.0 L459.4 201.5 L459.3 202.0 L459.3 202.5 L459.2 203.1 L459.2 203.6 L459.1 204.1 L459.1 204.6 L459.0 205.1 L458.9 205.6 L458.9 206.1 L458.8 206.7 L458.7 207.2 L458.7 207.7 L458.6 208.2 L458.5 208.7 L458.4 209.2 L458.4 209.8 L458.3 210.3 L458.2 210.8 L458.1 211.3 L458.0 211.8 L457.9 212.3 L457.9 212.8 L457.8 213.4 L457.7 213.9 L457.6 214.4 L457.5 214.9 L457.4 215.4 L457.3 215.9 L457.2 216.4 L457.1 217.0 L457.0 217.5 L456.8 218.0 L456.7 218.5 L456.6 219.0 L456.5 219.5 L456.4 220.0 L456.3 220.6 L456.1 221.1 L456.0 221.6 L455.9 222.1 L455.8 222.6 L455.6 223.1 L455.5 223.7 L455.4 224.2 L455.2 224.7 L455.1 225.2 L455.0 225.7 L454.8 226.2 L454.7 226.7 L454.5 227.3 L454.4 227.8 L454.2 228.3 L454.1 228.8 L453.9 229.3 L453.8 229.8 L453.6 230.3 L453.4 230.9 L453.3 231.4 L453.1 231.9 L452.9 232.4 L452.8 232.9 L452.6 233.4 L452.4 233.9 L452.3 234.5 L452.1 235.0 L451.9 235.5 L451.7 236.0 L451.5 236.5 L451.3 237.0 L451.2 237.5 L451.0 238.1 L450.8 238.6 L450.6 239.1 L450.4 239.6 L450.2 240.1 L450.0 240.6 L449.8 241.1 L449.6 241.7 L449.4 242.2 L449.2 242.7 L448.9 243.2 L448.7 243.7 L448.5 244.2 L448.3 244.7 L448.1 245.2 L447.9 245.8 L447.6 246.3 L447.4 246.8 L447.2 247.3 L446.9 247.8 L446.7 248.3 L446.5 248.8 L446.2 249.3 L446.0 249.9 L445.8 250.4 L445.5 250.9 L445.3 251.4 L445.0 251.9 L444.8 252.4 L444.5 252.9 L444.3 253.4 L444.0 254.0 L443.8 254.5 L443.5 255.0 L443.3 255.5 L443.0 256.0 L442.7 256.5 L442.5 257.0 L442.2 257.5 L441.9 258.0 L441.7 258.6 L441.4 259.1 L441.1 259.6 L440.9 260.1 L440.6 260.6 L440.3 261.1 L440.0 261.6 L439.7 262.1 L439.5 262.6 L439.2 263.1 L438.9 263.7 L438.6 264.2 L438.3 264.7 L438.0 265.2 L437.7 265.7 L437.4 266.2 L437.1 266.7 L436.8 267.2 L436.5 267.7 L436.2 268.2 L435.9 268.7 L435.6 269.2 L435.3 269.8 L435.0 270.3 L434.7 270.8 L434.4 271.3 L434.1 271.8 L433.8 272.3 L433.4 272.8 L433.1 273.3 L432.8 273.8 L432.5 274.3 L432.2 274.8 L431.9 275.3 L431.5 275.8 L431.2 276.3 L430.9 276.9 L430.6 277.4 L430.2 277.9 L429.9 278.4 L429.6 278.9 L429.2 279.4 L428.9 279.9 L428.6 280.4 L428.3 280.9 L427.9 281.4 L427.6 281.9 L427.2 282.4 L426.9 282.9 L426.6 283.4 L426.2 283.9 L425.9 284.4 L425.6 284.9 L425.2 285.4 L424.9 286.0 L424.5 286.5 L424.2 287.0 L423.8 287.5 L423.5 288.0 L423.1 288.5 L422.8 289.0 L422.5 289.5 L422.1 290.0 L421.8 290.5 L421.4 291.0 L421.1 291.5 L420.7 292.0 L420.4 292.5 L420.0 293.0 L419.7 293.5 L419.3 294.0 L418.9 294.5 L418.6 295.0 L418.2 295.5 L417.8 295.9 L417.3 296.4 L416.9 296.8 L416.4 297.2 L415.8 297.5 L415.2 297.9 L414.5 298.1 L413.8 298.4 L413.1 298.6 L412.4 298.9 L411.7 299.2 L411.2 299.5 L410.7 299.9 L410.3 300.4 L410.1 301.0 L410.0 301.7 L409.9 302.4 L409.9 303.1 L409.9 303.9 L409.9 304.6 L409.9 305.4 L409.8 306.1 L409.7 306.7 L409.5 307.3 L409.2 307.9 L408.9 308.4 L408.6 309.0 L408.3 309.5 L408.0 310.0 L407.7 310.5 L407.3 311.0 L407.0 311.5 L406.6 312.0 L406.3 312.5 L405.9 313.0 L405.6 313.5 L405.2 314.0 L404.9 314.5 L404.6 315.0 L404.2 315.5 L403.9 316.0 L403.5 316.5 L403.2 317.0 L402.8 317.5 L402.5 318.0 L402.2 318.5 L401.8 319.0 L401.5 319.5 L401.2 320.0 L400.8 320.5 L400.5 321.0 L400.2 321.5 L399.8 322.0 L399.5 322.5 L399.2 323.0 L398.8 323.5 L398.5 323.9 L398.2 324.4 L397.9 324.9 L397.5 325.4 L397.2 325.9 L396.9 326.4 L396.6 326.9 L396.3 327.4 L395.9 327.9 L395.6 328.4 L395.3 328.9 L395.0 329.4 L394.7 329.9 L394.4 330.4 L394.1 330.9 L393.8 331.4 L393.5 331.9 L393.2 332.4 L392.8 332.8 L392.5 333.3 L392.2 333.8 L391.9 334.3 L391.7 334.8 L391.4 335.3 L391.1 335.8 L390.8 336.3 L390.5 336.8 L390.2 337.3 L389.9 337.8 L389.6 338.3 L389.3 338.8 L389.1 339.3 L388.8 339.7 L388.5 340.2 L388.2 340.7 L387.9 341.2 L387.7 341.7 L387.4 342.2 L387.1 342.7 L386.9 343.2 L386.6 343.7 L386.3 344.2 L386.1 344.7 L385.8 345.1 L385.5 345.6 L385.3 346.1 L385.0 346.6 L384.8 347.1 L384.5 347.6 L384.3 348.1 L384.0 348.6 L383.8 349.1 L383.5 349.6 L383.3 350.1 L383.1 350.5 L382.8 351.0 L382.6 351.5 L382.3 352.0 L382.1 352.5 L381.9 353.0 L381.7 353.5 L381.4 354.0 L381.2 354.5 L381.0 354.9 L380.8 355.4 L380.5 355.9 L380.3 356.4 L380.1 356.9 L379.9 357.4 L379.7 357.9 L379.5 358.4 L379.3 358.8 L379.1 359.3 L378.9 359.8 L378.7 360.3 L378.5 360.8 L378.3 361.3 L378.1 361.8 L377.9 362.3 L377.7 362.8 L377.5 363.2 L377.3 363.7 L377.1 364.2 L376.9 364.7 L376.8 365.2 L376.6 365.7 L376.4 366.2 L376.2 366.6 L376.1 367.1 L375.9 367.6 L375.7 368.1 L375.6 368.6 L375.4 369.1 L375.2 369.6 L375.1 370.1 L374.9 370.5 L374.8 371.0 L374.6 371.5 L374.4 372.0 L374.3 372.5 L374.1 373.0 L374.0 373.5 L373.9 373.9 L373.7 374.4 L373.6 374.9 L373.4 375.4 L373.3 375.9 L373.2 376.4 L373.0 376.9 L372.9 377.4 L372.8 377.8 L372.6 378.3 L372.5 378.8 L372.4 379.3 L372.3 379.8 L372.2 380.3 L372.0 380.8 L371.9 381.2 L371.8 381.7 L371.7 382.2 L371.6 382.7 L371.5 383.2 L371.4 383.7 L371.3 384.2 L371.2 384.6 L371.1 385.1 L371.0 385.6 L370.9 386.1 L370.8 386.6 L370.7 387.1 L370.6 387.6 L370.5 388.0 L370.4 388.5 L370.3 389.0 L370.3 389.5 L370.2 390.0 L370.1 390.5 L370.0 391.0 L369.9 391.5 L369.9 391.9 L369.8 392.4 L369.7 392.9 L369.7 393.4 L369.6 393.9 L369.5 394.4 L369.5 394.9 L369.4 395.3 L369.3 395.8 L369.3 396.3 L369.2 396.8 L369.2 397.3 L369.1 397.8 L369.1 398.3 L369.0 398.8 L369.0 399.2 L368.9 399.7 L368.9 400.2 L368.8 400.7 L368.8 401.2 L368.8 401.7 L368.7 402.2 L368.7 402.6 L368.7 403.1 L368.6 403.6 L368.6 404.1 L368.6 404.6 L368.5 405.1 L368.5 405.6 L368.5 406.1 L368.5 406.5 L368.4 407.0 L368.4 407.5 L368.4 408.0 L368.4 408.5 L368.4 409.0 L368.4 409.5 L368.3 410.0 L368.3 410.4 L368.3 410.9 L368.3 411.4 L368.3 411.9 L368.3 412.4 L368.3 412.9 L368.3 413.4 L368.3 413.9 L368.3 414.4 L368.3 414.8 L368.3 415.3 L368.3 415.8 L368.3 416.3 L368.3 416.8 L368.4 417.3 L368.4 417.8 L368.4 418.3 L368.4 418.7 L368.4 419.2 L368.4 419.7 L368.5 420.2 L368.5 420.7 L368.5 421.2 L368.5 421.7 L368.5 422.2 L368.6 422.7 L368.6 423.1 L368.6 423.6 L368.7 424.1 L368.7 424.6 L368.7 425.1 L368.8 425.6 L368.8 426.1 L368.9 426.6 L368.9 427.1 L368.9 427.5 L369.0 428.0 L369.0 428.5 L369.1 429.0 L369.1 429.5 L369.2 430.0 L369.2 430.5 L369.3 431.0 L369.3 431.5 L369.4 431.9 L369.4 432.4 L369.5 432.9 L369.6 433.4 L369.6 433.9 L369.7 434.4 L369.7 434.9 L369.8 435.4 L369.9 435.9 L369.9 436.4 L370.0 436.8 L370.1 437.3 L370.2 437.8 L370.2 438.3 L370.3 438.8 L370.4 439.3 L370.5 439.8 L370.5 440.3 L370.6 440.8 L370.7 441.2 L370.8 441.7 L370.9 442.2 L371.0 442.7 L371.1 443.2 L371.1 443.7 L371.2 444.2 L371.3 444.7 L371.4 445.2 L371.5 445.6 L371.6 446.1 L371.7 446.6 L371.8 447.1 L371.9 447.6 L372.0 448.1 L372.1 448.6 L372.2 449.1 L372.3 449.6 L372.4 450.1 L372.6 450.5 L372.7 451.0 L372.8 451.5 L372.9 452.0 L373.0 452.5 L373.1 453.0 L373.2 453.5 L373.4 454.0 L373.5 454.5 L373.6 455.0 L373.7 455.4 L373.9 455.9 L374.0 456.4 L374.1 456.9 L374.2 457.4 L374.4 457.9 L374.5 458.4 L374.6 458.9 L374.8 459.4 L374.9 459.9 L375.1 460.3 L375.2 460.8 L375.3 461.3 L375.5 461.8 L375.6 462.3 L375.8 462.8 L375.9 463.3 L376.1 463.8 L376.2 464.3 L376.4 464.8 L376.5 465.2 L376.7 465.7 L376.9 466.2 L377.0 466.7 L377.2 467.2 L377.3 467.7 L377.5 468.2 L377.7 468.7 L377.8 469.2 L378.0 469.7 L378.2 470.1 L378.3 470.6 L378.5 471.1 L378.7 471.6 L378.9 472.1 L379.0 472.6 L379.2 473.1 L379.4 473.6 L379.6 474.1 L379.8 474.6 L380.0 475.0 L380.1 475.5 L380.3 476.0 L380.5 476.5 L380.7 477.0 L380.9 477.5 L381.1 478.0 L381.3 478.5 L381.5 479.0 L381.7 479.5 L381.9 480.0 L382.1 480.4 L382.3 480.9 L382.5 481.4 L382.7 481.9 L382.9 482.4 L383.1 482.9 L383.3 483.4 L383.5 483.9 L383.8 484.4 L384.0 484.9 L384.2 485.4 L384.4 485.9 L384.6 486.3 L384.8 486.8 L385.1 487.3 L385.3 487.8 L385.5 488.3 L385.7 488.8 L386.0 489.3 L386.2 489.8 L386.4 490.3 L386.7 490.8 L386.9 491.3 L387.1 491.8 L387.4 492.3 L387.6 492.7 L387.8 493.2 L388.1 493.7 L388.3 494.2 L388.6 494.7 L388.8 495.2 L389.1 495.7 L389.3 496.2 L389.5 496.7 L389.8 497.2 L390.0 497.7 L390.3 498.2 L390.6 498.7 L390.8 499.2 L391.1 499.7 L391.3 500.1 L391.6 500.6 L391.8 501.1 L392.1 501.6 L392.4 502.1 L392.6 502.6 L392.9 503.1 L393.2 503.6 L393.4 504.1 L393.7 504.6 L394.0 505.1 L394.2 505.6 L394.5 506.1 L394.8 506.6 L395.1 507.1 L395.3 507.6 L395.6 508.1 L395.9 508.6 L396.2 509.0 L396.4 509.5 L396.7 510.0 L397.0 510.5 L397.3 511.0 L397.6 511.5 L397.9 512.0 L398.1 512.5 L398.4 513.0 L398.7 513.5 L399.0 514.0 L399.3 514.5 L399.6 515.0 L399.9 515.5 L400.2 516.0 L400.5 516.5 L400.8 517.0 L401.0 517.5 L401.3 518.0 L401.6 518.5 L401.9 519.0 L402.2 519.5 L402.5 520.0 L402.8 520.5 L403.1 521.0 L403.4 521.5 L403.7 522.0 L404.0 522.5 L404.3 522.9"/>
<path fill="none" stroke="#000" stroke-opacity="0.8" stroke-width="1.2" d="M439.65 127.72 L450.46 123.78 M450.32 191.51 L461.81 191.89 M432.43 255.27 L442.55 260.73 M389.13 320.57 L398.78 326.83 M374.90 345.14 L385.20 350.26 M358.61 414.02 L370.11 413.98 M372.30 482.13 L382.98 477.87"/>
<path fill="none" stroke="#000" stroke-opacity="0.7" stroke-width="1" d="M434.2 92.5 L432.5 111.7 M433 257.7 L435 273 M385 327 L386.3 341.7 M386.3 488.7 L385 508"/>
</g>
<rect x="170.5" y="60.5" width="480" height="480" fill="none" stroke="#000" stroke-width="1.4"/>
<path stroke="#000" stroke-width="1" fill="none" d="M170.5 540.5 V534.5 M170.5 60.5 V66.5 M170.5 540.50 H176.5 M650.5 540.50 H644.5 M266.5 540.5 V534.5 M266.5 60.5 V66.5 M170.5 444.50 H176.5 M650.5 444.50 H644.5 M362.5 540.5 V534.5 M362.5 60.5 V66.5 M170.5 348.50 H176.5 M650.5 348.50 H644.5 M458.5 540.5 V534.5 M458.5 60.5 V66.5 M170.5 252.50 H176.5 M650.5 252.50 H644.5 M554.5 540.5 V534.5 M554.5 60.5 V66.5 M170.5 156.50 H176.5 M650.5 156.50 H644.5 M650.5 540.5 V534.5 M650.5 60.5 V66.5 M170.5 60.50 H176.5 M650.5 60.50 H644.5"/>
<text x="169.0" y="557.0" font-family="Liberation Sans, sans-serif" font-size="17" text-anchor="middle" textLength="25" lengthAdjust="spacingAndGlyphs">0.0</text>
<text x="164.0" y="545.5" font-family="Liberation Sans, sans-serif" font-size="17" text-anchor="end" textLength="25" lengthAdjust="spacingAndGlyphs">0.0</text>
<text x="265.0" y="557.0" font-family="Liberation Sans, sans-serif" font-size="17" text-anchor="middle" textLength="25" lengthAdjust="spacingAndGlyphs">0.2</text>
<text x="164.0" y="449.5" font-family="Liberation Sans, sans-serif" font-size="17" text-anchor="end" textLength="25" lengthAdjust="spacingAndGlyphs">0.2</text>
<text x="361.0" y="557.0" font-family="Liberation Sans, sans-serif" font-size="17" text-anchor="middle" textLength="25" lengthAdjust="spacingAndGlyphs">0.4</text>
<text x="164.0" y="353.5" font-family="Liberation Sans, sans-serif" font-size="17" text-anchor="end" textLength="25" lengthAdjust="spacingAndGlyphs">0.4</text>
<text x="457.0" y="557.0" font-family="Liberation Sans, sans-serif" font-size="17" text-anchor="middle" textLength="25" lengthAdjust="spacingAndGlyphs">0.6</text>
<text x="164.0" y="256.5" font-family="Liberation Sans, sans-serif" font-size="17" text-anchor="end" textLength="25" lengthAdjust="spacingAndGlyphs">0.6</text>
<text x="553.0" y="557.0" font-family="Liberation Sans, sans-serif" font-size="17" text-anchor="middle" textLength="25" lengthAdjust="spacingAndGlyphs">0.8</text>
<text x="164.0" y="161.5" font-family="Liberation Sans, sans-serif" font-size="17" text-anchor="end" textLength="25" lengthAdjust="spacingAndGlyphs">0.8</text>
<text x="649.0" y="557.0" font-family="Liberation Sans, sans-serif" font-size="17" text-anchor="middle" textLength="25" lengthAdjust="spacingAndGlyphs">1.0</text>
<text x="164.0" y="65.5" font-family="Liberation Sans, sans-serif" font-size="17" text-anchor="end" textLength="25" lengthAdjust="spacingAndGlyphs">1.0</text>
<text x="255" y="48.5" font-family="Liberation Sans, sans-serif" font-size="20" textLength="156.5" lengthAdjust="spacingAndGlyphs">q[0] at time t =</text>
<text x="444" y="48.5" font-family="Liberation Sans, sans-serif" font-size="20" textLength="121" lengthAdjust="spacingAndGlyphs">0.10000000</text>
</svg></body></html>
